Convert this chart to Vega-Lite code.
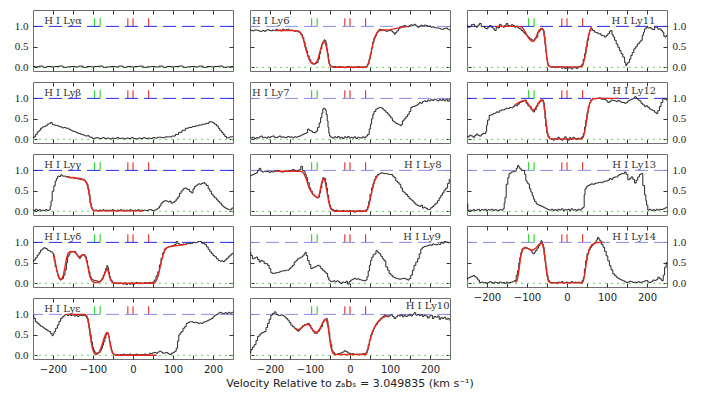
{
"$schema":"https://vega.github.io/schema/vega-lite/v6.json",
"background":"white",
"padding":{"left":13,"top":9,"right":5,"bottom":4},
"title":{"text":"Velocity Relative to zₐbₛ = 3.049835 (km s⁻¹)","orient":"bottom","anchor":"middle","font":"DejaVu Sans","fontSize":11,"fontWeight":"normal","color":"#222","offset":3},
"config":{"view":{"stroke":"#6e6e6e","strokeWidth":1},"axis":{"domain":false,"grid":false,"tickColor":"#333","tickWidth":1}},
"datasets":{
"ticks":[{"v":-96,"c":"g"},{"v":-82,"c":"g"},{"v":-13,"c":"r"},{"v":0,"c":"r"},{"v":39,"c":"r"}],
"cont":[{"f":1}],
"zero":[{"f":0}],
"spec":[
{"p":"a","v":-250,"f":0.02},{"p":"a","v":-240,"f":0.01},{"p":"a","v":-230,"f":0.03},{"p":"a","v":-220,"f":0.0},{"p":"a","v":-210,"f":0.02},{"p":"a","v":-200,"f":0.01},{"p":"a","v":-190,"f":0.02},{"p":"a","v":-180,"f":0.03},{"p":"a","v":-170,"f":0.0},{"p":"a","v":-160,"f":0.01},{"p":"a","v":-150,"f":0.02},{"p":"a","v":-140,"f":0.01},{"p":"a","v":-130,"f":0.03},{"p":"a","v":-120,"f":0.0},{"p":"a","v":-110,"f":0.02},{"p":"a","v":-100,"f":0.01},{"p":"a","v":-90,"f":0.02},{"p":"a","v":-80,"f":0.03},{"p":"a","v":-70,"f":0.0},{"p":"a","v":-60,"f":0.01},{"p":"a","v":-50,"f":0.02},{"p":"a","v":-40,"f":0.01},{"p":"a","v":-30,"f":0.03},{"p":"a","v":-20,"f":0.0},{"p":"a","v":-10,"f":0.02},{"p":"a","v":0,"f":0.01},{"p":"a","v":10,"f":0.02},{"p":"a","v":20,"f":0.03},{"p":"a","v":30,"f":0.0},{"p":"a","v":40,"f":0.01},{"p":"a","v":50,"f":0.02},{"p":"a","v":60,"f":0.01},{"p":"a","v":70,"f":0.03},{"p":"a","v":80,"f":0.0},{"p":"a","v":90,"f":0.02},{"p":"a","v":100,"f":0.01},{"p":"a","v":110,"f":0.02},{"p":"a","v":120,"f":0.03},{"p":"a","v":130,"f":0.0},{"p":"a","v":140,"f":0.01},{"p":"a","v":150,"f":0.02},{"p":"a","v":160,"f":0.01},{"p":"a","v":170,"f":0.03},{"p":"a","v":180,"f":0.0},{"p":"a","v":190,"f":0.02},{"p":"a","v":200,"f":0.01},{"p":"a","v":210,"f":0.02},{"p":"a","v":220,"f":0.03},{"p":"a","v":230,"f":0.0},{"p":"a","v":240,"f":0.01},{"p":"a","v":250,"f":0.02},
{"p":"b","v":-250,"f":0.03},{"p":"b","v":-246,"f":0.06},{"p":"b","v":-242,"f":0.12},{"p":"b","v":-237,"f":0.18},{"p":"b","v":-233,"f":0.22},{"p":"b","v":-229,"f":0.27},{"p":"b","v":-225,"f":0.3},{"p":"b","v":-221,"f":0.31},{"p":"b","v":-217,"f":0.33},{"p":"b","v":-212,"f":0.37},{"p":"b","v":-208,"f":0.39},{"p":"b","v":-204,"f":0.41},{"p":"b","v":-200,"f":0.36},{"p":"b","v":-196,"f":0.35},{"p":"b","v":-191,"f":0.34},{"p":"b","v":-187,"f":0.33},{"p":"b","v":-183,"f":0.31},{"p":"b","v":-179,"f":0.3},{"p":"b","v":-175,"f":0.28},{"p":"b","v":-170,"f":0.29},{"p":"b","v":-166,"f":0.27},{"p":"b","v":-162,"f":0.27},{"p":"b","v":-158,"f":0.24},{"p":"b","v":-154,"f":0.22},{"p":"b","v":-150,"f":0.2},{"p":"b","v":-145,"f":0.19},{"p":"b","v":-141,"f":0.17},{"p":"b","v":-137,"f":0.15},{"p":"b","v":-133,"f":0.14},{"p":"b","v":-128,"f":0.12},{"p":"b","v":-124,"f":0.11},{"p":"b","v":-120,"f":0.09},{"p":"b","v":-116,"f":0.08},{"p":"b","v":-112,"f":0.09},{"p":"b","v":-108,"f":0.06},{"p":"b","v":-104,"f":0.05},{"p":"b","v":-99,"f":0.02},{"p":"b","v":-95,"f":0.03},{"p":"b","v":-90,"f":0.04},{"p":"b","v":-86,"f":0.03},{"p":"b","v":-80,"f":0.02},{"p":"b","v":-74,"f":0.04},{"p":"b","v":-68,"f":0.02},{"p":"b","v":-62,"f":0.03},{"p":"b","v":-56,"f":0.01},{"p":"b","v":-50,"f":0.03},{"p":"b","v":-44,"f":0.02},{"p":"b","v":-38,"f":0.04},{"p":"b","v":-32,"f":0.02},{"p":"b","v":-26,"f":0.03},{"p":"b","v":-20,"f":0.01},{"p":"b","v":-14,"f":0.03},{"p":"b","v":-8,"f":0.02},{"p":"b","v":-2,"f":0.04},{"p":"b","v":4,"f":0.02},{"p":"b","v":10,"f":0.01},{"p":"b","v":16,"f":0.03},{"p":"b","v":22,"f":0.02},{"p":"b","v":28,"f":0.04},{"p":"b","v":34,"f":0.02},{"p":"b","v":40,"f":0.03},{"p":"b","v":46,"f":0.02},{"p":"b","v":52,"f":0.04},{"p":"b","v":58,"f":0.03},{"p":"b","v":64,"f":0.05},{"p":"b","v":68,"f":0.05},{"p":"b","v":76,"f":0.04},{"p":"b","v":85,"f":0.06},{"p":"b","v":93,"f":0.06},{"p":"b","v":102,"f":0.08},{"p":"b","v":110,"f":0.12},{"p":"b","v":118,"f":0.17},{"p":"b","v":127,"f":0.22},{"p":"b","v":135,"f":0.27},{"p":"b","v":143,"f":0.29},{"p":"b","v":152,"f":0.31},{"p":"b","v":160,"f":0.33},{"p":"b","v":169,"f":0.35},{"p":"b","v":177,"f":0.37},{"p":"b","v":186,"f":0.39},{"p":"b","v":194,"f":0.43},{"p":"b","v":198,"f":0.42},{"p":"b","v":202,"f":0.4},{"p":"b","v":206,"f":0.37},{"p":"b","v":211,"f":0.33},{"p":"b","v":215,"f":0.27},{"p":"b","v":219,"f":0.22},{"p":"b","v":223,"f":0.17},{"p":"b","v":227,"f":0.12},{"p":"b","v":232,"f":0.07},{"p":"b","v":236,"f":0.03},{"p":"b","v":240,"f":0.04},{"p":"b","v":244,"f":0.06},{"p":"b","v":250,"f":0.06},
{"p":"g","v":-250,"f":0.03},{"p":"g","v":-246,"f":0.02},{"p":"g","v":-242,"f":0.05},{"p":"g","v":-237,"f":0.02},{"p":"g","v":-233,"f":0.04},{"p":"g","v":-229,"f":0.01},{"p":"g","v":-225,"f":0.03},{"p":"g","v":-221,"f":0.02},{"p":"g","v":-217,"f":0.04},{"p":"g","v":-212,"f":0.02},{"p":"g","v":-208,"f":0.04},{"p":"g","v":-206,"f":0.12},{"p":"g","v":-204,"f":0.25},{"p":"g","v":-200,"f":0.49},{"p":"g","v":-196,"f":0.62},{"p":"g","v":-193,"f":0.74},{"p":"g","v":-190,"f":0.8},{"p":"g","v":-187,"f":0.86},{"p":"g","v":-183,"f":0.85},{"p":"g","v":-179,"f":0.89},{"p":"g","v":-175,"f":0.86},{"p":"g","v":-170,"f":0.86},{"p":"g","v":-166,"f":0.84},{"p":"g","v":-162,"f":0.85},{"p":"g","v":-158,"f":0.82},{"p":"g","v":-154,"f":0.82},{"p":"g","v":-150,"f":0.83},{"p":"g","v":-145,"f":0.8},{"p":"g","v":-141,"f":0.81},{"p":"g","v":-137,"f":0.79},{"p":"g","v":-133,"f":0.79},{"p":"g","v":-128,"f":0.77},{"p":"g","v":-124,"f":0.77},{"p":"g","v":-120,"f":0.75},{"p":"g","v":-117,"f":0.7},{"p":"g","v":-114,"f":0.66},{"p":"g","v":-111,"f":0.55},{"p":"g","v":-109,"f":0.41},{"p":"g","v":-106,"f":0.2},{"p":"g","v":-103,"f":0.1},{"p":"g","v":-101,"f":0.04},{"p":"g","v":-97,"f":0.02},{"p":"g","v":-92,"f":0.03},{"p":"g","v":-87,"f":0.01},{"p":"g","v":-83,"f":0.03},{"p":"g","v":-78,"f":0.02},{"p":"g","v":-74,"f":0.04},{"p":"g","v":-70,"f":0.02},{"p":"g","v":-66,"f":0.03},{"p":"g","v":-62,"f":0.01},{"p":"g","v":-58,"f":0.03},{"p":"g","v":-54,"f":0.02},{"p":"g","v":-50,"f":0.04},{"p":"g","v":-46,"f":0.02},{"p":"g","v":-42,"f":0.01},{"p":"g","v":-38,"f":0.03},{"p":"g","v":-34,"f":0.02},{"p":"g","v":-30,"f":0.04},{"p":"g","v":-26,"f":0.02},{"p":"g","v":-22,"f":0.03},{"p":"g","v":-18,"f":0.01},{"p":"g","v":-14,"f":0.03},{"p":"g","v":-10,"f":0.02},{"p":"g","v":-6,"f":0.04},{"p":"g","v":-2,"f":0.02},{"p":"g","v":2,"f":0.01},{"p":"g","v":6,"f":0.03},{"p":"g","v":10,"f":0.02},{"p":"g","v":14,"f":0.04},{"p":"g","v":18,"f":0.01},{"p":"g","v":22,"f":0.03},{"p":"g","v":26,"f":0.02},{"p":"g","v":30,"f":0.03},{"p":"g","v":34,"f":0.02},{"p":"g","v":43,"f":0.04},{"p":"g","v":51,"f":0.02},{"p":"g","v":55,"f":0.03},{"p":"g","v":60,"f":0.05},{"p":"g","v":64,"f":0.08},{"p":"g","v":68,"f":0.13},{"p":"g","v":72,"f":0.2},{"p":"g","v":77,"f":0.24},{"p":"g","v":81,"f":0.26},{"p":"g","v":85,"f":0.25},{"p":"g","v":89,"f":0.23},{"p":"g","v":93,"f":0.25},{"p":"g","v":97,"f":0.2},{"p":"g","v":102,"f":0.22},{"p":"g","v":106,"f":0.25},{"p":"g","v":110,"f":0.3},{"p":"g","v":114,"f":0.35},{"p":"g","v":118,"f":0.44},{"p":"g","v":123,"f":0.5},{"p":"g","v":127,"f":0.55},{"p":"g","v":131,"f":0.57},{"p":"g","v":135,"f":0.55},{"p":"g","v":139,"f":0.53},{"p":"g","v":144,"f":0.48},{"p":"g","v":148,"f":0.45},{"p":"g","v":152,"f":0.55},{"p":"g","v":156,"f":0.61},{"p":"g","v":160,"f":0.64},{"p":"g","v":165,"f":0.67},{"p":"g","v":169,"f":0.66},{"p":"g","v":173,"f":0.68},{"p":"g","v":177,"f":0.7},{"p":"g","v":181,"f":0.67},{"p":"g","v":186,"f":0.63},{"p":"g","v":190,"f":0.55},{"p":"g","v":194,"f":0.49},{"p":"g","v":198,"f":0.42},{"p":"g","v":202,"f":0.37},{"p":"g","v":206,"f":0.33},{"p":"g","v":211,"f":0.28},{"p":"g","v":215,"f":0.24},{"p":"g","v":219,"f":0.2},{"p":"g","v":223,"f":0.15},{"p":"g","v":227,"f":0.11},{"p":"g","v":232,"f":0.08},{"p":"g","v":236,"f":0.06},{"p":"g","v":240,"f":0.04},{"p":"g","v":244,"f":0.04},{"p":"g","v":250,"f":0.08},
{"p":"d","v":-250,"f":0.53},{"p":"d","v":-246,"f":0.57},{"p":"d","v":-242,"f":0.62},{"p":"d","v":-237,"f":0.69},{"p":"d","v":-233,"f":0.75},{"p":"d","v":-229,"f":0.81},{"p":"d","v":-225,"f":0.84},{"p":"d","v":-221,"f":0.87},{"p":"d","v":-217,"f":0.85},{"p":"d","v":-212,"f":0.81},{"p":"d","v":-208,"f":0.79},{"p":"d","v":-204,"f":0.77},{"p":"d","v":-200,"f":0.74},{"p":"d","v":-198,"f":0.65},{"p":"d","v":-196,"f":0.55},{"p":"d","v":-193,"f":0.41},{"p":"d","v":-190,"f":0.3},{"p":"d","v":-187,"f":0.2},{"p":"d","v":-184,"f":0.12},{"p":"d","v":-181,"f":0.08},{"p":"d","v":-178,"f":0.1},{"p":"d","v":-175,"f":0.12},{"p":"d","v":-172,"f":0.2},{"p":"d","v":-168,"f":0.33},{"p":"d","v":-165,"f":0.5},{"p":"d","v":-162,"f":0.65},{"p":"d","v":-159,"f":0.7},{"p":"d","v":-156,"f":0.76},{"p":"d","v":-152,"f":0.77},{"p":"d","v":-148,"f":0.77},{"p":"d","v":-145,"f":0.78},{"p":"d","v":-141,"f":0.72},{"p":"d","v":-139,"f":0.69},{"p":"d","v":-136,"f":0.65},{"p":"d","v":-133,"f":0.61},{"p":"d","v":-130,"f":0.65},{"p":"d","v":-126,"f":0.69},{"p":"d","v":-122,"f":0.7},{"p":"d","v":-118,"f":0.65},{"p":"d","v":-115,"f":0.55},{"p":"d","v":-112,"f":0.41},{"p":"d","v":-109,"f":0.28},{"p":"d","v":-106,"f":0.16},{"p":"d","v":-103,"f":0.1},{"p":"d","v":-99,"f":0.08},{"p":"d","v":-95,"f":0.07},{"p":"d","v":-91,"f":0.06},{"p":"d","v":-87,"f":0.05},{"p":"d","v":-84,"f":0.04},{"p":"d","v":-80,"f":0.07},{"p":"d","v":-76,"f":0.12},{"p":"d","v":-73,"f":0.2},{"p":"d","v":-70,"f":0.28},{"p":"d","v":-67,"f":0.36},{"p":"d","v":-64,"f":0.43},{"p":"d","v":-62,"f":0.38},{"p":"d","v":-60,"f":0.28},{"p":"d","v":-58,"f":0.18},{"p":"d","v":-56,"f":0.1},{"p":"d","v":-53,"f":0.06},{"p":"d","v":-49,"f":0.02},{"p":"d","v":-45,"f":0.0},{"p":"d","v":-40,"f":0.01},{"p":"d","v":-36,"f":-0.01},{"p":"d","v":-32,"f":0.01},{"p":"d","v":-28,"f":0.0},{"p":"d","v":-24,"f":-0.02},{"p":"d","v":-20,"f":0.01},{"p":"d","v":-16,"f":-0.03},{"p":"d","v":-12,"f":0.0},{"p":"d","v":-8,"f":-0.02},{"p":"d","v":-3,"f":0.01},{"p":"d","v":1,"f":-0.03},{"p":"d","v":5,"f":0.0},{"p":"d","v":10,"f":0.02},{"p":"d","v":14,"f":-0.01},{"p":"d","v":18,"f":0.01},{"p":"d","v":22,"f":-0.01},{"p":"d","v":26,"f":0.0},{"p":"d","v":31,"f":0.02},{"p":"d","v":35,"f":0.0},{"p":"d","v":39,"f":0.01},{"p":"d","v":43,"f":0.02},{"p":"d","v":47,"f":0.0},{"p":"d","v":51,"f":0.03},{"p":"d","v":55,"f":0.08},{"p":"d","v":60,"f":0.18},{"p":"d","v":64,"f":0.28},{"p":"d","v":68,"f":0.45},{"p":"d","v":72,"f":0.61},{"p":"d","v":76,"f":0.74},{"p":"d","v":81,"f":0.84},{"p":"d","v":85,"f":0.87},{"p":"d","v":89,"f":0.89},{"p":"d","v":93,"f":0.9},{"p":"d","v":98,"f":0.91},{"p":"d","v":102,"f":0.92},{"p":"d","v":106,"f":0.95},{"p":"d","v":110,"f":1.02},{"p":"d","v":114,"f":0.97},{"p":"d","v":118,"f":0.95},{"p":"d","v":123,"f":0.94},{"p":"d","v":127,"f":0.96},{"p":"d","v":131,"f":0.95},{"p":"d","v":135,"f":0.97},{"p":"d","v":139,"f":0.98},{"p":"d","v":144,"f":0.97},{"p":"d","v":148,"f":0.98},{"p":"d","v":152,"f":1.0},{"p":"d","v":156,"f":0.99},{"p":"d","v":160,"f":1.0},{"p":"d","v":165,"f":1.02},{"p":"d","v":169,"f":1.02},{"p":"d","v":173,"f":0.98},{"p":"d","v":177,"f":0.98},{"p":"d","v":181,"f":0.95},{"p":"d","v":186,"f":0.89},{"p":"d","v":190,"f":0.83},{"p":"d","v":194,"f":0.77},{"p":"d","v":198,"f":0.73},{"p":"d","v":202,"f":0.68},{"p":"d","v":206,"f":0.65},{"p":"d","v":211,"f":0.6},{"p":"d","v":215,"f":0.56},{"p":"d","v":219,"f":0.54},{"p":"d","v":223,"f":0.55},{"p":"d","v":227,"f":0.53},{"p":"d","v":232,"f":0.57},{"p":"d","v":236,"f":0.61},{"p":"d","v":240,"f":0.65},{"p":"d","v":244,"f":0.69},{"p":"d","v":250,"f":0.73},
{"p":"e","v":-250,"f":0.98},{"p":"e","v":-246,"f":0.9},{"p":"e","v":-242,"f":0.82},{"p":"e","v":-237,"f":0.78},{"p":"e","v":-233,"f":0.74},{"p":"e","v":-229,"f":0.71},{"p":"e","v":-225,"f":0.69},{"p":"e","v":-221,"f":0.66},{"p":"e","v":-217,"f":0.63},{"p":"e","v":-212,"f":0.6},{"p":"e","v":-208,"f":0.58},{"p":"e","v":-204,"f":0.53},{"p":"e","v":-201,"f":0.48},{"p":"e","v":-198,"f":0.53},{"p":"e","v":-196,"f":0.58},{"p":"e","v":-191,"f":0.66},{"p":"e","v":-187,"f":0.74},{"p":"e","v":-183,"f":0.83},{"p":"e","v":-179,"f":0.9},{"p":"e","v":-175,"f":0.94},{"p":"e","v":-170,"f":0.98},{"p":"e","v":-166,"f":1.0},{"p":"e","v":-162,"f":0.97},{"p":"e","v":-158,"f":1.0},{"p":"e","v":-154,"f":0.97},{"p":"e","v":-150,"f":1.0},{"p":"e","v":-145,"f":0.96},{"p":"e","v":-141,"f":0.98},{"p":"e","v":-137,"f":0.95},{"p":"e","v":-133,"f":0.98},{"p":"e","v":-128,"f":0.97},{"p":"e","v":-124,"f":0.97},{"p":"e","v":-120,"f":0.98},{"p":"e","v":-117,"f":0.95},{"p":"e","v":-114,"f":0.9},{"p":"e","v":-111,"f":0.8},{"p":"e","v":-109,"f":0.66},{"p":"e","v":-106,"f":0.5},{"p":"e","v":-103,"f":0.33},{"p":"e","v":-100,"f":0.2},{"p":"e","v":-98,"f":0.13},{"p":"e","v":-95,"f":0.08},{"p":"e","v":-91,"f":0.05},{"p":"e","v":-87,"f":0.06},{"p":"e","v":-84,"f":0.07},{"p":"e","v":-80,"f":0.12},{"p":"e","v":-78,"f":0.17},{"p":"e","v":-75,"f":0.25},{"p":"e","v":-72,"f":0.33},{"p":"e","v":-69,"f":0.42},{"p":"e","v":-67,"f":0.5},{"p":"e","v":-64,"f":0.56},{"p":"e","v":-62,"f":0.53},{"p":"e","v":-60,"f":0.46},{"p":"e","v":-58,"f":0.33},{"p":"e","v":-56,"f":0.21},{"p":"e","v":-53,"f":0.12},{"p":"e","v":-51,"f":0.05},{"p":"e","v":-47,"f":0.02},{"p":"e","v":-43,"f":0.01},{"p":"e","v":-39,"f":0.02},{"p":"e","v":-35,"f":0.0},{"p":"e","v":-31,"f":0.02},{"p":"e","v":-27,"f":0.01},{"p":"e","v":-23,"f":0.03},{"p":"e","v":-19,"f":0.0},{"p":"e","v":-15,"f":0.02},{"p":"e","v":-11,"f":0.01},{"p":"e","v":-7,"f":0.03},{"p":"e","v":-3,"f":0.0},{"p":"e","v":1,"f":0.02},{"p":"e","v":5,"f":0.01},{"p":"e","v":9,"f":0.03},{"p":"e","v":13,"f":0.02},{"p":"e","v":17,"f":0.0},{"p":"e","v":21,"f":0.02},{"p":"e","v":25,"f":0.01},{"p":"e","v":30,"f":0.03},{"p":"e","v":35,"f":0.02},{"p":"e","v":39,"f":0.01},{"p":"e","v":43,"f":0.05},{"p":"e","v":47,"f":0.04},{"p":"e","v":51,"f":0.06},{"p":"e","v":55,"f":0.07},{"p":"e","v":60,"f":0.05},{"p":"e","v":64,"f":0.08},{"p":"e","v":68,"f":0.1},{"p":"e","v":72,"f":0.08},{"p":"e","v":76,"f":0.05},{"p":"e","v":81,"f":0.06},{"p":"e","v":85,"f":0.07},{"p":"e","v":89,"f":0.04},{"p":"e","v":93,"f":0.02},{"p":"e","v":98,"f":0.05},{"p":"e","v":102,"f":0.07},{"p":"e","v":106,"f":0.1},{"p":"e","v":110,"f":0.17},{"p":"e","v":113,"f":0.35},{"p":"e","v":116,"f":0.5},{"p":"e","v":120,"f":0.55},{"p":"e","v":123,"f":0.58},{"p":"e","v":127,"f":0.66},{"p":"e","v":131,"f":0.7},{"p":"e","v":135,"f":0.78},{"p":"e","v":139,"f":0.8},{"p":"e","v":144,"f":0.82},{"p":"e","v":148,"f":0.82},{"p":"e","v":152,"f":0.8},{"p":"e","v":156,"f":0.81},{"p":"e","v":160,"f":0.8},{"p":"e","v":165,"f":0.78},{"p":"e","v":169,"f":0.79},{"p":"e","v":173,"f":0.78},{"p":"e","v":177,"f":0.81},{"p":"e","v":181,"f":0.82},{"p":"e","v":186,"f":0.84},{"p":"e","v":190,"f":0.86},{"p":"e","v":194,"f":0.88},{"p":"e","v":198,"f":0.9},{"p":"e","v":202,"f":0.94},{"p":"e","v":206,"f":0.98},{"p":"e","v":211,"f":1.0},{"p":"e","v":215,"f":1.03},{"p":"e","v":219,"f":1.05},{"p":"e","v":223,"f":1.03},{"p":"e","v":227,"f":1.02},{"p":"e","v":232,"f":1.04},{"p":"e","v":236,"f":1.02},{"p":"e","v":240,"f":1.05},{"p":"e","v":244,"f":1.03},{"p":"e","v":250,"f":1.05},
{"p":"6","v":-250,"f":0.93},{"p":"6","v":-246,"f":0.9},{"p":"6","v":-242,"f":0.89},{"p":"6","v":-237,"f":0.91},{"p":"6","v":-233,"f":0.91},{"p":"6","v":-229,"f":0.9},{"p":"6","v":-225,"f":0.88},{"p":"6","v":-221,"f":0.88},{"p":"6","v":-217,"f":0.9},{"p":"6","v":-212,"f":0.88},{"p":"6","v":-208,"f":0.91},{"p":"6","v":-204,"f":0.92},{"p":"6","v":-200,"f":0.9},{"p":"6","v":-196,"f":0.89},{"p":"6","v":-192,"f":0.91},{"p":"6","v":-187,"f":0.9},{"p":"6","v":-183,"f":0.93},{"p":"6","v":-179,"f":0.9},{"p":"6","v":-175,"f":0.91},{"p":"6","v":-171,"f":0.89},{"p":"6","v":-167,"f":0.93},{"p":"6","v":-162,"f":0.9},{"p":"6","v":-158,"f":0.92},{"p":"6","v":-154,"f":0.93},{"p":"6","v":-150,"f":0.9},{"p":"6","v":-146,"f":0.91},{"p":"6","v":-142,"f":0.9},{"p":"6","v":-137,"f":0.88},{"p":"6","v":-133,"f":0.89},{"p":"6","v":-129,"f":0.87},{"p":"6","v":-125,"f":0.85},{"p":"6","v":-121,"f":0.8},{"p":"6","v":-117,"f":0.73},{"p":"6","v":-114,"f":0.62},{"p":"6","v":-111,"f":0.49},{"p":"6","v":-108,"f":0.4},{"p":"6","v":-104,"f":0.28},{"p":"6","v":-100,"f":0.19},{"p":"6","v":-96,"f":0.12},{"p":"6","v":-92,"f":0.09},{"p":"6","v":-88,"f":0.08},{"p":"6","v":-84,"f":0.1},{"p":"6","v":-81,"f":0.12},{"p":"6","v":-78,"f":0.2},{"p":"6","v":-75,"f":0.33},{"p":"6","v":-72,"f":0.45},{"p":"6","v":-69,"f":0.57},{"p":"6","v":-66,"f":0.63},{"p":"6","v":-64,"f":0.67},{"p":"6","v":-61,"f":0.65},{"p":"6","v":-59,"f":0.58},{"p":"6","v":-57,"f":0.45},{"p":"6","v":-55,"f":0.33},{"p":"6","v":-53,"f":0.2},{"p":"6","v":-52,"f":0.08},{"p":"6","v":-48,"f":0.04},{"p":"6","v":-46,"f":0.02},{"p":"6","v":-42,"f":0.01},{"p":"6","v":-37,"f":0.02},{"p":"6","v":-33,"f":0.0},{"p":"6","v":-29,"f":0.01},{"p":"6","v":-25,"f":0.02},{"p":"6","v":-21,"f":0.0},{"p":"6","v":-17,"f":0.01},{"p":"6","v":-12,"f":-0.01},{"p":"6","v":-8,"f":0.01},{"p":"6","v":-4,"f":0.02},{"p":"6","v":0,"f":0.0},{"p":"6","v":4,"f":0.01},{"p":"6","v":8,"f":-0.01},{"p":"6","v":12,"f":0.01},{"p":"6","v":17,"f":0.0},{"p":"6","v":21,"f":0.02},{"p":"6","v":25,"f":0.0},{"p":"6","v":29,"f":0.01},{"p":"6","v":33,"f":-0.01},{"p":"6","v":37,"f":0.01},{"p":"6","v":41,"f":0.02},{"p":"6","v":46,"f":0.08},{"p":"6","v":49,"f":0.2},{"p":"6","v":52,"f":0.33},{"p":"6","v":55,"f":0.47},{"p":"6","v":58,"f":0.61},{"p":"6","v":62,"f":0.72},{"p":"6","v":65,"f":0.77},{"p":"6","v":68,"f":0.84},{"p":"6","v":71,"f":0.89},{"p":"6","v":75,"f":0.93},{"p":"6","v":79,"f":0.92},{"p":"6","v":83,"f":0.91},{"p":"6","v":87,"f":0.9},{"p":"6","v":92,"f":0.88},{"p":"6","v":96,"f":0.89},{"p":"6","v":100,"f":0.9},{"p":"6","v":104,"f":0.89},{"p":"6","v":108,"f":0.86},{"p":"6","v":112,"f":0.81},{"p":"6","v":115,"f":0.85},{"p":"6","v":119,"f":0.89},{"p":"6","v":123,"f":0.94},{"p":"6","v":127,"f":0.98},{"p":"6","v":133,"f":1.0},{"p":"6","v":137,"f":1.02},{"p":"6","v":142,"f":1.0},{"p":"6","v":146,"f":0.99},{"p":"6","v":150,"f":1.02},{"p":"6","v":154,"f":1.04},{"p":"6","v":158,"f":1.02},{"p":"6","v":162,"f":1.05},{"p":"6","v":167,"f":1.01},{"p":"6","v":171,"f":0.98},{"p":"6","v":175,"f":1.0},{"p":"6","v":179,"f":1.03},{"p":"6","v":183,"f":1.01},{"p":"6","v":188,"f":1.03},{"p":"6","v":192,"f":1.02},{"p":"6","v":196,"f":1.0},{"p":"6","v":200,"f":1.01},{"p":"6","v":204,"f":0.98},{"p":"6","v":208,"f":0.99},{"p":"6","v":212,"f":0.97},{"p":"6","v":217,"f":0.96},{"p":"6","v":221,"f":0.96},{"p":"6","v":225,"f":0.95},{"p":"6","v":229,"f":0.93},{"p":"6","v":233,"f":0.93},{"p":"6","v":237,"f":0.95},{"p":"6","v":242,"f":0.96},{"p":"6","v":246,"f":0.93},{"p":"6","v":250,"f":0.91},
{"p":"7","v":-250,"f":0.04},{"p":"7","v":-246,"f":0.03},{"p":"7","v":-242,"f":0.05},{"p":"7","v":-237,"f":0.02},{"p":"7","v":-233,"f":0.04},{"p":"7","v":-229,"f":0.03},{"p":"7","v":-225,"f":0.06},{"p":"7","v":-221,"f":0.08},{"p":"7","v":-217,"f":0.04},{"p":"7","v":-212,"f":0.05},{"p":"7","v":-208,"f":0.03},{"p":"7","v":-204,"f":0.06},{"p":"7","v":-200,"f":0.04},{"p":"7","v":-196,"f":0.07},{"p":"7","v":-192,"f":0.08},{"p":"7","v":-187,"f":0.05},{"p":"7","v":-183,"f":0.04},{"p":"7","v":-179,"f":0.06},{"p":"7","v":-175,"f":0.08},{"p":"7","v":-171,"f":0.05},{"p":"7","v":-167,"f":0.06},{"p":"7","v":-162,"f":0.04},{"p":"7","v":-158,"f":0.05},{"p":"7","v":-154,"f":0.07},{"p":"7","v":-150,"f":0.05},{"p":"7","v":-146,"f":0.06},{"p":"7","v":-142,"f":0.04},{"p":"7","v":-137,"f":0.06},{"p":"7","v":-133,"f":0.05},{"p":"7","v":-129,"f":0.07},{"p":"7","v":-125,"f":0.08},{"p":"7","v":-121,"f":0.1},{"p":"7","v":-117,"f":0.12},{"p":"7","v":-112,"f":0.14},{"p":"7","v":-108,"f":0.16},{"p":"7","v":-104,"f":0.25},{"p":"7","v":-100,"f":0.22},{"p":"7","v":-96,"f":0.2},{"p":"7","v":-92,"f":0.17},{"p":"7","v":-87,"f":0.16},{"p":"7","v":-83,"f":0.2},{"p":"7","v":-79,"f":0.29},{"p":"7","v":-75,"f":0.4},{"p":"7","v":-72,"f":0.53},{"p":"7","v":-69,"f":0.64},{"p":"7","v":-67,"f":0.74},{"p":"7","v":-64,"f":0.76},{"p":"7","v":-61,"f":0.72},{"p":"7","v":-58,"f":0.61},{"p":"7","v":-56,"f":0.45},{"p":"7","v":-54,"f":0.29},{"p":"7","v":-52,"f":0.15},{"p":"7","v":-50,"f":0.08},{"p":"7","v":-46,"f":0.05},{"p":"7","v":-42,"f":0.03},{"p":"7","v":-37,"f":0.06},{"p":"7","v":-33,"f":0.04},{"p":"7","v":-29,"f":0.07},{"p":"7","v":-25,"f":0.03},{"p":"7","v":-21,"f":0.05},{"p":"7","v":-17,"f":0.02},{"p":"7","v":-12,"f":0.06},{"p":"7","v":-8,"f":0.04},{"p":"7","v":-4,"f":0.07},{"p":"7","v":0,"f":0.03},{"p":"7","v":4,"f":0.05},{"p":"7","v":8,"f":0.03},{"p":"7","v":12,"f":0.06},{"p":"7","v":17,"f":0.02},{"p":"7","v":21,"f":0.05},{"p":"7","v":25,"f":0.04},{"p":"7","v":29,"f":0.03},{"p":"7","v":33,"f":0.06},{"p":"7","v":37,"f":0.04},{"p":"7","v":42,"f":0.08},{"p":"7","v":46,"f":0.12},{"p":"7","v":50,"f":0.25},{"p":"7","v":52,"f":0.37},{"p":"7","v":56,"f":0.5},{"p":"7","v":58,"f":0.61},{"p":"7","v":62,"f":0.68},{"p":"7","v":67,"f":0.74},{"p":"7","v":71,"f":0.76},{"p":"7","v":75,"f":0.78},{"p":"7","v":79,"f":0.77},{"p":"7","v":83,"f":0.74},{"p":"7","v":87,"f":0.7},{"p":"7","v":92,"f":0.66},{"p":"7","v":96,"f":0.62},{"p":"7","v":100,"f":0.57},{"p":"7","v":104,"f":0.52},{"p":"7","v":108,"f":0.45},{"p":"7","v":112,"f":0.42},{"p":"7","v":117,"f":0.39},{"p":"7","v":121,"f":0.37},{"p":"7","v":125,"f":0.35},{"p":"7","v":127,"f":0.33},{"p":"7","v":129,"f":0.36},{"p":"7","v":133,"f":0.45},{"p":"7","v":137,"f":0.5},{"p":"7","v":142,"f":0.55},{"p":"7","v":146,"f":0.61},{"p":"7","v":150,"f":0.68},{"p":"7","v":154,"f":0.78},{"p":"7","v":158,"f":0.8},{"p":"7","v":162,"f":0.81},{"p":"7","v":167,"f":0.83},{"p":"7","v":171,"f":0.86},{"p":"7","v":175,"f":0.9},{"p":"7","v":179,"f":0.88},{"p":"7","v":183,"f":0.92},{"p":"7","v":187,"f":0.94},{"p":"7","v":192,"f":0.92},{"p":"7","v":196,"f":0.96},{"p":"7","v":200,"f":0.94},{"p":"7","v":204,"f":0.97},{"p":"7","v":208,"f":0.95},{"p":"7","v":212,"f":0.98},{"p":"7","v":217,"f":0.96},{"p":"7","v":221,"f":0.94},{"p":"7","v":225,"f":0.97},{"p":"7","v":229,"f":0.95},{"p":"7","v":233,"f":0.98},{"p":"7","v":237,"f":0.94},{"p":"7","v":242,"f":0.97},{"p":"7","v":246,"f":0.93},{"p":"7","v":250,"f":0.98},
{"p":"8","v":-250,"f":0.86},{"p":"8","v":-246,"f":0.88},{"p":"8","v":-242,"f":0.9},{"p":"8","v":-237,"f":0.92},{"p":"8","v":-233,"f":0.94},{"p":"8","v":-229,"f":1.0},{"p":"8","v":-225,"f":1.05},{"p":"8","v":-221,"f":0.98},{"p":"8","v":-217,"f":0.96},{"p":"8","v":-212,"f":0.98},{"p":"8","v":-208,"f":0.97},{"p":"8","v":-204,"f":0.98},{"p":"8","v":-200,"f":0.95},{"p":"8","v":-196,"f":0.97},{"p":"8","v":-192,"f":0.96},{"p":"8","v":-187,"f":0.99},{"p":"8","v":-183,"f":0.97},{"p":"8","v":-179,"f":1.0},{"p":"8","v":-175,"f":0.98},{"p":"8","v":-171,"f":0.96},{"p":"8","v":-167,"f":0.96},{"p":"8","v":-162,"f":0.98},{"p":"8","v":-158,"f":0.97},{"p":"8","v":-154,"f":0.98},{"p":"8","v":-150,"f":1.0},{"p":"8","v":-146,"f":0.99},{"p":"8","v":-142,"f":1.02},{"p":"8","v":-137,"f":1.0},{"p":"8","v":-133,"f":0.98},{"p":"8","v":-129,"f":1.0},{"p":"8","v":-125,"f":1.02},{"p":"8","v":-121,"f":1.1},{"p":"8","v":-117,"f":1.0},{"p":"8","v":-114,"f":0.98},{"p":"8","v":-111,"f":0.9},{"p":"8","v":-108,"f":0.82},{"p":"8","v":-104,"f":0.7},{"p":"8","v":-100,"f":0.57},{"p":"8","v":-96,"f":0.49},{"p":"8","v":-92,"f":0.41},{"p":"8","v":-87,"f":0.37},{"p":"8","v":-83,"f":0.34},{"p":"8","v":-80,"f":0.33},{"p":"8","v":-77,"f":0.35},{"p":"8","v":-75,"f":0.45},{"p":"8","v":-72,"f":0.57},{"p":"8","v":-69,"f":0.7},{"p":"8","v":-67,"f":0.82},{"p":"8","v":-62,"f":0.8},{"p":"8","v":-60,"f":0.7},{"p":"8","v":-58,"f":0.57},{"p":"8","v":-55,"f":0.4},{"p":"8","v":-52,"f":0.25},{"p":"8","v":-50,"f":0.15},{"p":"8","v":-47,"f":0.08},{"p":"8","v":-44,"f":0.04},{"p":"8","v":-37,"f":0.02},{"p":"8","v":-33,"f":0.03},{"p":"8","v":-29,"f":0.0},{"p":"8","v":-25,"f":0.01},{"p":"8","v":-21,"f":0.0},{"p":"8","v":-17,"f":0.02},{"p":"8","v":-12,"f":0.0},{"p":"8","v":-8,"f":0.01},{"p":"8","v":-4,"f":-0.01},{"p":"8","v":0,"f":0.02},{"p":"8","v":4,"f":0.0},{"p":"8","v":8,"f":0.01},{"p":"8","v":12,"f":-0.02},{"p":"8","v":17,"f":0.01},{"p":"8","v":21,"f":0.0},{"p":"8","v":25,"f":0.02},{"p":"8","v":29,"f":-0.01},{"p":"8","v":33,"f":0.01},{"p":"8","v":37,"f":0.0},{"p":"8","v":42,"f":0.04},{"p":"8","v":46,"f":0.12},{"p":"8","v":48,"f":0.25},{"p":"8","v":52,"f":0.41},{"p":"8","v":56,"f":0.57},{"p":"8","v":59,"f":0.68},{"p":"8","v":62,"f":0.78},{"p":"8","v":67,"f":0.86},{"p":"8","v":71,"f":0.9},{"p":"8","v":75,"f":0.92},{"p":"8","v":79,"f":0.94},{"p":"8","v":83,"f":0.93},{"p":"8","v":87,"f":0.92},{"p":"8","v":92,"f":0.92},{"p":"8","v":96,"f":0.91},{"p":"8","v":100,"f":0.9},{"p":"8","v":104,"f":0.9},{"p":"8","v":108,"f":0.86},{"p":"8","v":112,"f":0.82},{"p":"8","v":117,"f":0.74},{"p":"8","v":121,"f":0.7},{"p":"8","v":125,"f":0.66},{"p":"8","v":129,"f":0.57},{"p":"8","v":133,"f":0.49},{"p":"8","v":137,"f":0.45},{"p":"8","v":142,"f":0.41},{"p":"8","v":146,"f":0.36},{"p":"8","v":150,"f":0.31},{"p":"8","v":154,"f":0.28},{"p":"8","v":158,"f":0.25},{"p":"8","v":162,"f":0.2},{"p":"8","v":167,"f":0.16},{"p":"8","v":171,"f":0.14},{"p":"8","v":175,"f":0.12},{"p":"8","v":179,"f":0.15},{"p":"8","v":183,"f":0.08},{"p":"8","v":187,"f":0.1},{"p":"8","v":192,"f":0.07},{"p":"8","v":196,"f":0.04},{"p":"8","v":200,"f":0.05},{"p":"8","v":204,"f":0.09},{"p":"8","v":208,"f":0.12},{"p":"8","v":212,"f":0.16},{"p":"8","v":217,"f":0.2},{"p":"8","v":221,"f":0.26},{"p":"8","v":225,"f":0.33},{"p":"8","v":229,"f":0.39},{"p":"8","v":233,"f":0.45},{"p":"8","v":237,"f":0.52},{"p":"8","v":242,"f":0.57},{"p":"8","v":246,"f":0.68},{"p":"8","v":250,"f":0.78},
{"p":"9","v":-250,"f":0.76},{"p":"9","v":-246,"f":0.68},{"p":"9","v":-242,"f":0.6},{"p":"9","v":-237,"f":0.62},{"p":"9","v":-233,"f":0.64},{"p":"9","v":-229,"f":0.58},{"p":"9","v":-225,"f":0.52},{"p":"9","v":-221,"f":0.56},{"p":"9","v":-217,"f":0.54},{"p":"9","v":-212,"f":0.48},{"p":"9","v":-208,"f":0.48},{"p":"9","v":-204,"f":0.44},{"p":"9","v":-200,"f":0.36},{"p":"9","v":-196,"f":0.26},{"p":"9","v":-192,"f":0.24},{"p":"9","v":-187,"f":0.25},{"p":"9","v":-183,"f":0.26},{"p":"9","v":-179,"f":0.26},{"p":"9","v":-175,"f":0.28},{"p":"9","v":-171,"f":0.3},{"p":"9","v":-167,"f":0.3},{"p":"9","v":-162,"f":0.31},{"p":"9","v":-158,"f":0.32},{"p":"9","v":-154,"f":0.32},{"p":"9","v":-150,"f":0.36},{"p":"9","v":-146,"f":0.4},{"p":"9","v":-142,"f":0.44},{"p":"9","v":-137,"f":0.52},{"p":"9","v":-133,"f":0.56},{"p":"9","v":-129,"f":0.6},{"p":"9","v":-125,"f":0.62},{"p":"9","v":-121,"f":0.64},{"p":"9","v":-117,"f":0.67},{"p":"9","v":-113,"f":0.72},{"p":"9","v":-111,"f":0.76},{"p":"9","v":-108,"f":0.68},{"p":"9","v":-104,"f":0.56},{"p":"9","v":-100,"f":0.46},{"p":"9","v":-96,"f":0.36},{"p":"9","v":-92,"f":0.38},{"p":"9","v":-87,"f":0.4},{"p":"9","v":-83,"f":0.42},{"p":"9","v":-79,"f":0.44},{"p":"9","v":-75,"f":0.42},{"p":"9","v":-71,"f":0.36},{"p":"9","v":-67,"f":0.32},{"p":"9","v":-62,"f":0.28},{"p":"9","v":-58,"f":0.24},{"p":"9","v":-54,"f":0.15},{"p":"9","v":-52,"f":0.08},{"p":"9","v":-48,"f":0.05},{"p":"9","v":-44,"f":0.04},{"p":"9","v":-40,"f":0.06},{"p":"9","v":-35,"f":0.04},{"p":"9","v":-31,"f":0.06},{"p":"9","v":-29,"f":0.05},{"p":"9","v":-25,"f":0.02},{"p":"9","v":-21,"f":0.0},{"p":"9","v":-17,"f":0.03},{"p":"9","v":-12,"f":0.02},{"p":"9","v":-8,"f":0.05},{"p":"9","v":-4,"f":-0.02},{"p":"9","v":0,"f":0.04},{"p":"9","v":4,"f":0.08},{"p":"9","v":8,"f":0.1},{"p":"9","v":12,"f":0.12},{"p":"9","v":17,"f":0.1},{"p":"9","v":21,"f":0.11},{"p":"9","v":25,"f":0.09},{"p":"9","v":29,"f":0.08},{"p":"9","v":33,"f":0.07},{"p":"9","v":37,"f":0.06},{"p":"9","v":41,"f":0.08},{"p":"9","v":44,"f":0.16},{"p":"9","v":47,"f":0.3},{"p":"9","v":50,"f":0.44},{"p":"9","v":53,"f":0.56},{"p":"9","v":56,"f":0.64},{"p":"9","v":60,"f":0.7},{"p":"9","v":63,"f":0.72},{"p":"9","v":67,"f":0.8},{"p":"9","v":69,"f":0.78},{"p":"9","v":71,"f":0.75},{"p":"9","v":75,"f":0.72},{"p":"9","v":79,"f":0.66},{"p":"9","v":83,"f":0.6},{"p":"9","v":87,"f":0.55},{"p":"9","v":92,"f":0.4},{"p":"9","v":96,"f":0.32},{"p":"9","v":100,"f":0.24},{"p":"9","v":104,"f":0.2},{"p":"9","v":108,"f":0.16},{"p":"9","v":112,"f":0.14},{"p":"9","v":117,"f":0.12},{"p":"9","v":121,"f":0.11},{"p":"9","v":125,"f":0.1},{"p":"9","v":129,"f":0.11},{"p":"9","v":133,"f":0.12},{"p":"9","v":137,"f":0.12},{"p":"9","v":142,"f":0.1},{"p":"9","v":146,"f":0.08},{"p":"9","v":150,"f":0.12},{"p":"9","v":154,"f":0.2},{"p":"9","v":158,"f":0.32},{"p":"9","v":162,"f":0.44},{"p":"9","v":167,"f":0.52},{"p":"9","v":171,"f":0.6},{"p":"9","v":175,"f":0.72},{"p":"9","v":179,"f":0.84},{"p":"9","v":183,"f":0.88},{"p":"9","v":187,"f":0.9},{"p":"9","v":192,"f":0.91},{"p":"9","v":196,"f":0.92},{"p":"9","v":200,"f":0.94},{"p":"9","v":204,"f":0.93},{"p":"9","v":208,"f":0.96},{"p":"9","v":212,"f":0.95},{"p":"9","v":217,"f":0.94},{"p":"9","v":221,"f":0.96},{"p":"9","v":225,"f":0.95},{"p":"9","v":229,"f":1.0},{"p":"9","v":233,"f":0.98},{"p":"9","v":237,"f":1.02},{"p":"9","v":242,"f":1.01},{"p":"9","v":246,"f":0.99},{"p":"9","v":250,"f":1.0},
{"p":"10","v":-250,"f":0.06},{"p":"10","v":-246,"f":0.14},{"p":"10","v":-242,"f":0.2},{"p":"10","v":-237,"f":0.26},{"p":"10","v":-233,"f":0.36},{"p":"10","v":-229,"f":0.46},{"p":"10","v":-225,"f":0.5},{"p":"10","v":-221,"f":0.54},{"p":"10","v":-217,"f":0.56},{"p":"10","v":-212,"f":0.58},{"p":"10","v":-208,"f":0.68},{"p":"10","v":-204,"f":0.78},{"p":"10","v":-200,"f":0.88},{"p":"10","v":-196,"f":0.98},{"p":"10","v":-192,"f":1.02},{"p":"10","v":-187,"f":1.06},{"p":"10","v":-183,"f":1.0},{"p":"10","v":-179,"f":0.98},{"p":"10","v":-175,"f":0.97},{"p":"10","v":-171,"f":0.99},{"p":"10","v":-167,"f":0.97},{"p":"10","v":-162,"f":0.94},{"p":"10","v":-158,"f":0.9},{"p":"10","v":-154,"f":0.86},{"p":"10","v":-150,"f":0.8},{"p":"10","v":-146,"f":0.74},{"p":"10","v":-142,"f":0.7},{"p":"10","v":-137,"f":0.66},{"p":"10","v":-133,"f":0.62},{"p":"10","v":-129,"f":0.59},{"p":"10","v":-125,"f":0.63},{"p":"10","v":-121,"f":0.67},{"p":"10","v":-117,"f":0.72},{"p":"10","v":-112,"f":0.75},{"p":"10","v":-108,"f":0.76},{"p":"10","v":-104,"f":0.78},{"p":"10","v":-100,"f":0.74},{"p":"10","v":-96,"f":0.66},{"p":"10","v":-92,"f":0.6},{"p":"10","v":-87,"f":0.54},{"p":"10","v":-83,"f":0.54},{"p":"10","v":-79,"f":0.58},{"p":"10","v":-75,"f":0.64},{"p":"10","v":-71,"f":0.7},{"p":"10","v":-67,"f":0.8},{"p":"10","v":-64,"f":0.86},{"p":"10","v":-61,"f":0.88},{"p":"10","v":-58,"f":0.9},{"p":"10","v":-56,"f":0.84},{"p":"10","v":-54,"f":0.72},{"p":"10","v":-52,"f":0.55},{"p":"10","v":-49,"f":0.35},{"p":"10","v":-47,"f":0.26},{"p":"10","v":-44,"f":0.12},{"p":"10","v":-42,"f":0.08},{"p":"10","v":-37,"f":0.03},{"p":"10","v":-33,"f":0.02},{"p":"10","v":-29,"f":0.04},{"p":"10","v":-25,"f":0.05},{"p":"10","v":-21,"f":0.06},{"p":"10","v":-17,"f":0.08},{"p":"10","v":-12,"f":0.11},{"p":"10","v":-8,"f":0.09},{"p":"10","v":-4,"f":0.06},{"p":"10","v":0,"f":0.05},{"p":"10","v":4,"f":0.03},{"p":"10","v":8,"f":0.04},{"p":"10","v":12,"f":0.02},{"p":"10","v":17,"f":0.03},{"p":"10","v":21,"f":0.02},{"p":"10","v":25,"f":0.03},{"p":"10","v":29,"f":0.02},{"p":"10","v":33,"f":0.04},{"p":"10","v":37,"f":0.03},{"p":"10","v":41,"f":0.06},{"p":"10","v":44,"f":0.14},{"p":"10","v":47,"f":0.26},{"p":"10","v":50,"f":0.38},{"p":"10","v":54,"f":0.5},{"p":"10","v":57,"f":0.58},{"p":"10","v":60,"f":0.64},{"p":"10","v":62,"f":0.7},{"p":"10","v":67,"f":0.76},{"p":"10","v":71,"f":0.82},{"p":"10","v":75,"f":0.86},{"p":"10","v":79,"f":0.91},{"p":"10","v":83,"f":0.94},{"p":"10","v":87,"f":0.98},{"p":"10","v":92,"f":0.96},{"p":"10","v":96,"f":0.94},{"p":"10","v":100,"f":0.97},{"p":"10","v":104,"f":0.99},{"p":"10","v":108,"f":0.95},{"p":"10","v":112,"f":0.9},{"p":"10","v":117,"f":0.94},{"p":"10","v":121,"f":0.98},{"p":"10","v":125,"f":0.96},{"p":"10","v":129,"f":0.99},{"p":"10","v":133,"f":0.94},{"p":"10","v":137,"f":0.98},{"p":"10","v":142,"f":0.95},{"p":"10","v":146,"f":0.97},{"p":"10","v":150,"f":1.0},{"p":"10","v":154,"f":0.96},{"p":"10","v":158,"f":1.0},{"p":"10","v":162,"f":1.04},{"p":"10","v":167,"f":0.98},{"p":"10","v":171,"f":1.0},{"p":"10","v":175,"f":0.97},{"p":"10","v":179,"f":0.99},{"p":"10","v":183,"f":0.95},{"p":"10","v":187,"f":0.98},{"p":"10","v":192,"f":0.96},{"p":"10","v":196,"f":0.91},{"p":"10","v":200,"f":0.96},{"p":"10","v":204,"f":0.98},{"p":"10","v":208,"f":0.9},{"p":"10","v":212,"f":0.95},{"p":"10","v":217,"f":0.93},{"p":"10","v":221,"f":0.96},{"p":"10","v":225,"f":0.88},{"p":"10","v":229,"f":0.92},{"p":"10","v":233,"f":0.9},{"p":"10","v":237,"f":0.93},{"p":"10","v":242,"f":0.88},{"p":"10","v":246,"f":0.9},{"p":"10","v":250,"f":0.86},
{"p":"11","v":-250,"f":1.02},{"p":"11","v":-246,"f":0.98},{"p":"11","v":-242,"f":0.99},{"p":"11","v":-237,"f":1.04},{"p":"11","v":-233,"f":1.05},{"p":"11","v":-229,"f":1.0},{"p":"11","v":-225,"f":0.98},{"p":"11","v":-221,"f":1.03},{"p":"11","v":-217,"f":1.07},{"p":"11","v":-212,"f":1.0},{"p":"11","v":-208,"f":1.0},{"p":"11","v":-204,"f":0.96},{"p":"11","v":-200,"f":0.94},{"p":"11","v":-196,"f":0.98},{"p":"11","v":-192,"f":1.02},{"p":"11","v":-187,"f":0.98},{"p":"11","v":-183,"f":0.94},{"p":"11","v":-179,"f":0.9},{"p":"11","v":-175,"f":0.98},{"p":"11","v":-171,"f":0.96},{"p":"11","v":-167,"f":1.05},{"p":"11","v":-162,"f":1.0},{"p":"11","v":-158,"f":0.98},{"p":"11","v":-154,"f":1.02},{"p":"11","v":-150,"f":1.07},{"p":"11","v":-146,"f":1.02},{"p":"11","v":-142,"f":1.0},{"p":"11","v":-137,"f":1.04},{"p":"11","v":-133,"f":1.02},{"p":"11","v":-129,"f":0.98},{"p":"11","v":-125,"f":1.0},{"p":"11","v":-121,"f":0.96},{"p":"11","v":-117,"f":0.94},{"p":"11","v":-112,"f":0.9},{"p":"11","v":-108,"f":0.86},{"p":"11","v":-104,"f":0.82},{"p":"11","v":-100,"f":0.78},{"p":"11","v":-96,"f":0.74},{"p":"11","v":-92,"f":0.7},{"p":"11","v":-87,"f":0.67},{"p":"11","v":-83,"f":0.66},{"p":"11","v":-79,"f":0.7},{"p":"11","v":-75,"f":0.74},{"p":"11","v":-71,"f":0.86},{"p":"11","v":-67,"f":0.9},{"p":"11","v":-64,"f":0.94},{"p":"11","v":-60,"f":0.93},{"p":"11","v":-58,"f":0.89},{"p":"11","v":-56,"f":0.75},{"p":"11","v":-54,"f":0.57},{"p":"11","v":-52,"f":0.38},{"p":"11","v":-50,"f":0.2},{"p":"11","v":-48,"f":0.1},{"p":"11","v":-46,"f":0.04},{"p":"11","v":-42,"f":0.02},{"p":"11","v":-37,"f":0.0},{"p":"11","v":-33,"f":0.02},{"p":"11","v":-29,"f":-0.01},{"p":"11","v":-25,"f":0.01},{"p":"11","v":-21,"f":0.0},{"p":"11","v":-17,"f":0.02},{"p":"11","v":-12,"f":-0.02},{"p":"11","v":-8,"f":0.0},{"p":"11","v":-4,"f":-0.03},{"p":"11","v":0,"f":0.01},{"p":"11","v":4,"f":-0.02},{"p":"11","v":8,"f":0.0},{"p":"11","v":12,"f":-0.04},{"p":"11","v":17,"f":-0.01},{"p":"11","v":21,"f":0.0},{"p":"11","v":25,"f":-0.03},{"p":"11","v":29,"f":0.01},{"p":"11","v":33,"f":0.02},{"p":"11","v":37,"f":0.05},{"p":"11","v":39,"f":0.08},{"p":"11","v":42,"f":0.2},{"p":"11","v":46,"f":0.33},{"p":"11","v":49,"f":0.5},{"p":"11","v":52,"f":0.66},{"p":"11","v":55,"f":0.8},{"p":"11","v":58,"f":0.9},{"p":"11","v":62,"f":0.94},{"p":"11","v":66,"f":0.9},{"p":"11","v":71,"f":0.86},{"p":"11","v":75,"f":0.85},{"p":"11","v":79,"f":0.82},{"p":"11","v":83,"f":0.82},{"p":"11","v":87,"f":0.78},{"p":"11","v":92,"f":0.77},{"p":"11","v":96,"f":0.74},{"p":"11","v":100,"f":0.78},{"p":"11","v":104,"f":0.82},{"p":"11","v":108,"f":0.88},{"p":"11","v":111,"f":0.9},{"p":"11","v":114,"f":0.8},{"p":"11","v":117,"f":0.74},{"p":"11","v":121,"f":0.66},{"p":"11","v":125,"f":0.57},{"p":"11","v":129,"f":0.49},{"p":"11","v":133,"f":0.41},{"p":"11","v":137,"f":0.33},{"p":"11","v":142,"f":0.25},{"p":"11","v":146,"f":0.12},{"p":"11","v":148,"f":0.04},{"p":"11","v":150,"f":0.08},{"p":"11","v":154,"f":0.12},{"p":"11","v":158,"f":0.2},{"p":"11","v":161,"f":0.29},{"p":"11","v":165,"f":0.36},{"p":"11","v":169,"f":0.45},{"p":"11","v":173,"f":0.5},{"p":"11","v":178,"f":0.57},{"p":"11","v":183,"f":0.62},{"p":"11","v":186,"f":0.66},{"p":"11","v":190,"f":0.78},{"p":"11","v":192,"f":0.86},{"p":"11","v":196,"f":0.94},{"p":"11","v":200,"f":0.98},{"p":"11","v":204,"f":0.96},{"p":"11","v":208,"f":0.97},{"p":"11","v":212,"f":0.94},{"p":"11","v":217,"f":0.92},{"p":"11","v":221,"f":0.98},{"p":"11","v":225,"f":0.98},{"p":"11","v":229,"f":0.93},{"p":"11","v":233,"f":0.94},{"p":"11","v":237,"f":0.9},{"p":"11","v":240,"f":0.86},{"p":"11","v":244,"f":0.76},{"p":"11","v":246,"f":0.74},{"p":"11","v":250,"f":0.78},
{"p":"12","v":-250,"f":0.07},{"p":"12","v":-246,"f":0.06},{"p":"12","v":-242,"f":0.1},{"p":"12","v":-237,"f":0.08},{"p":"12","v":-233,"f":0.05},{"p":"12","v":-229,"f":0.09},{"p":"12","v":-225,"f":0.13},{"p":"12","v":-221,"f":0.1},{"p":"12","v":-217,"f":0.08},{"p":"12","v":-212,"f":0.12},{"p":"12","v":-208,"f":0.15},{"p":"12","v":-204,"f":0.14},{"p":"12","v":-202,"f":0.19},{"p":"12","v":-200,"f":0.35},{"p":"12","v":-197,"f":0.47},{"p":"12","v":-192,"f":0.59},{"p":"12","v":-187,"f":0.6},{"p":"12","v":-183,"f":0.63},{"p":"12","v":-179,"f":0.64},{"p":"12","v":-175,"f":0.67},{"p":"12","v":-171,"f":0.66},{"p":"12","v":-167,"f":0.7},{"p":"12","v":-162,"f":0.72},{"p":"12","v":-158,"f":0.72},{"p":"12","v":-154,"f":0.74},{"p":"12","v":-150,"f":0.76},{"p":"12","v":-146,"f":0.75},{"p":"12","v":-142,"f":0.78},{"p":"12","v":-137,"f":0.77},{"p":"12","v":-133,"f":0.8},{"p":"12","v":-129,"f":0.84},{"p":"12","v":-125,"f":0.82},{"p":"12","v":-121,"f":0.86},{"p":"12","v":-117,"f":0.9},{"p":"12","v":-112,"f":0.92},{"p":"12","v":-108,"f":0.94},{"p":"12","v":-104,"f":0.96},{"p":"12","v":-100,"f":0.88},{"p":"12","v":-96,"f":0.82},{"p":"12","v":-92,"f":0.8},{"p":"12","v":-87,"f":0.72},{"p":"12","v":-83,"f":0.67},{"p":"12","v":-79,"f":0.72},{"p":"12","v":-75,"f":0.8},{"p":"12","v":-71,"f":0.88},{"p":"12","v":-67,"f":0.92},{"p":"12","v":-62,"f":0.96},{"p":"12","v":-60,"f":0.96},{"p":"12","v":-58,"f":0.9},{"p":"12","v":-56,"f":0.72},{"p":"12","v":-54,"f":0.5},{"p":"12","v":-52,"f":0.31},{"p":"12","v":-49,"f":0.15},{"p":"12","v":-46,"f":0.07},{"p":"12","v":-42,"f":0.02},{"p":"12","v":-37,"f":0.0},{"p":"12","v":-33,"f":-0.02},{"p":"12","v":-29,"f":0.02},{"p":"12","v":-25,"f":0.0},{"p":"12","v":-21,"f":0.05},{"p":"12","v":-17,"f":0.01},{"p":"12","v":-12,"f":-0.02},{"p":"12","v":-8,"f":0.02},{"p":"12","v":-4,"f":0.06},{"p":"12","v":0,"f":0.0},{"p":"12","v":4,"f":-0.02},{"p":"12","v":8,"f":0.04},{"p":"12","v":12,"f":0.0},{"p":"12","v":17,"f":0.05},{"p":"12","v":21,"f":0.02},{"p":"12","v":25,"f":0.0},{"p":"12","v":29,"f":0.03},{"p":"12","v":33,"f":0.01},{"p":"12","v":37,"f":0.04},{"p":"12","v":40,"f":0.08},{"p":"12","v":42,"f":0.15},{"p":"12","v":46,"f":0.3},{"p":"12","v":48,"f":0.47},{"p":"12","v":52,"f":0.65},{"p":"12","v":54,"f":0.8},{"p":"12","v":58,"f":0.9},{"p":"12","v":61,"f":0.96},{"p":"12","v":67,"f":1.0},{"p":"12","v":71,"f":0.99},{"p":"12","v":75,"f":1.0},{"p":"12","v":83,"f":1.01},{"p":"12","v":87,"f":0.98},{"p":"12","v":92,"f":0.98},{"p":"12","v":96,"f":0.97},{"p":"12","v":100,"f":0.94},{"p":"12","v":104,"f":0.9},{"p":"12","v":108,"f":0.92},{"p":"12","v":112,"f":0.96},{"p":"12","v":117,"f":0.95},{"p":"12","v":121,"f":0.94},{"p":"12","v":125,"f":0.92},{"p":"12","v":129,"f":0.95},{"p":"12","v":133,"f":0.93},{"p":"12","v":137,"f":0.9},{"p":"12","v":142,"f":0.9},{"p":"12","v":146,"f":0.88},{"p":"12","v":150,"f":0.9},{"p":"12","v":154,"f":0.94},{"p":"12","v":158,"f":0.96},{"p":"12","v":162,"f":0.98},{"p":"12","v":167,"f":1.0},{"p":"12","v":171,"f":1.04},{"p":"12","v":175,"f":1.0},{"p":"12","v":179,"f":0.96},{"p":"12","v":183,"f":0.94},{"p":"12","v":187,"f":0.88},{"p":"12","v":192,"f":0.84},{"p":"12","v":196,"f":0.8},{"p":"12","v":200,"f":0.82},{"p":"12","v":204,"f":0.78},{"p":"12","v":208,"f":0.74},{"p":"12","v":212,"f":0.72},{"p":"12","v":217,"f":0.7},{"p":"12","v":221,"f":0.66},{"p":"12","v":225,"f":0.63},{"p":"12","v":229,"f":0.7},{"p":"12","v":233,"f":0.8},{"p":"12","v":237,"f":0.9},{"p":"12","v":242,"f":1.0},{"p":"12","v":246,"f":0.98},{"p":"12","v":250,"f":0.96},
{"p":"13","v":-250,"f":0.18},{"p":"13","v":-246,"f":0.02},{"p":"13","v":-242,"f":0.03},{"p":"13","v":-237,"f":0.02},{"p":"13","v":-233,"f":0.04},{"p":"13","v":-229,"f":0.02},{"p":"13","v":-225,"f":0.03},{"p":"13","v":-221,"f":0.05},{"p":"13","v":-217,"f":0.02},{"p":"13","v":-212,"f":0.04},{"p":"13","v":-208,"f":0.03},{"p":"13","v":-204,"f":0.05},{"p":"13","v":-200,"f":0.02},{"p":"13","v":-196,"f":0.04},{"p":"13","v":-192,"f":0.03},{"p":"13","v":-187,"f":0.05},{"p":"13","v":-183,"f":0.02},{"p":"13","v":-179,"f":0.04},{"p":"13","v":-175,"f":0.03},{"p":"13","v":-171,"f":0.02},{"p":"13","v":-167,"f":0.04},{"p":"13","v":-162,"f":0.03},{"p":"13","v":-158,"f":0.06},{"p":"13","v":-156,"f":0.2},{"p":"13","v":-154,"f":0.34},{"p":"13","v":-150,"f":0.66},{"p":"13","v":-146,"f":0.82},{"p":"13","v":-144,"f":0.92},{"p":"13","v":-142,"f":0.93},{"p":"13","v":-137,"f":0.96},{"p":"13","v":-133,"f":0.97},{"p":"13","v":-129,"f":0.98},{"p":"13","v":-125,"f":1.05},{"p":"13","v":-122,"f":1.12},{"p":"13","v":-119,"f":1.08},{"p":"13","v":-117,"f":1.04},{"p":"13","v":-112,"f":1.0},{"p":"13","v":-108,"f":1.0},{"p":"13","v":-104,"f":0.9},{"p":"13","v":-102,"f":0.75},{"p":"13","v":-100,"f":0.72},{"p":"13","v":-96,"f":0.67},{"p":"13","v":-92,"f":0.55},{"p":"13","v":-89,"f":0.47},{"p":"13","v":-85,"f":0.38},{"p":"13","v":-83,"f":0.3},{"p":"13","v":-79,"f":0.24},{"p":"13","v":-75,"f":0.18},{"p":"13","v":-71,"f":0.16},{"p":"13","v":-67,"f":0.14},{"p":"13","v":-62,"f":0.12},{"p":"13","v":-58,"f":0.1},{"p":"13","v":-54,"f":0.08},{"p":"13","v":-50,"f":0.06},{"p":"13","v":-46,"f":0.04},{"p":"13","v":-42,"f":0.03},{"p":"13","v":-37,"f":0.05},{"p":"13","v":-33,"f":0.02},{"p":"13","v":-29,"f":0.04},{"p":"13","v":-25,"f":0.02},{"p":"13","v":-21,"f":0.05},{"p":"13","v":-17,"f":0.03},{"p":"13","v":-12,"f":0.06},{"p":"13","v":-8,"f":0.02},{"p":"13","v":-4,"f":0.04},{"p":"13","v":0,"f":0.03},{"p":"13","v":4,"f":0.05},{"p":"13","v":8,"f":0.02},{"p":"13","v":12,"f":0.06},{"p":"13","v":17,"f":0.03},{"p":"13","v":21,"f":0.04},{"p":"13","v":25,"f":0.02},{"p":"13","v":29,"f":0.05},{"p":"13","v":33,"f":0.03},{"p":"13","v":37,"f":0.06},{"p":"13","v":42,"f":0.1},{"p":"13","v":44,"f":0.4},{"p":"13","v":46,"f":0.55},{"p":"13","v":50,"f":0.6},{"p":"13","v":54,"f":0.63},{"p":"13","v":58,"f":0.65},{"p":"13","v":62,"f":0.67},{"p":"13","v":67,"f":0.66},{"p":"13","v":71,"f":0.68},{"p":"13","v":75,"f":0.69},{"p":"13","v":79,"f":0.7},{"p":"13","v":83,"f":0.71},{"p":"13","v":87,"f":0.7},{"p":"13","v":92,"f":0.72},{"p":"13","v":96,"f":0.74},{"p":"13","v":100,"f":0.74},{"p":"13","v":104,"f":0.76},{"p":"13","v":108,"f":0.8},{"p":"13","v":112,"f":0.78},{"p":"13","v":117,"f":0.82},{"p":"13","v":121,"f":0.84},{"p":"13","v":125,"f":0.84},{"p":"13","v":129,"f":0.88},{"p":"13","v":133,"f":0.9},{"p":"13","v":137,"f":0.92},{"p":"13","v":142,"f":0.92},{"p":"13","v":146,"f":0.96},{"p":"13","v":150,"f":0.9},{"p":"13","v":154,"f":0.77},{"p":"13","v":158,"f":0.8},{"p":"13","v":162,"f":0.84},{"p":"13","v":167,"f":0.78},{"p":"13","v":171,"f":0.69},{"p":"13","v":175,"f":0.76},{"p":"13","v":179,"f":0.84},{"p":"13","v":183,"f":0.9},{"p":"13","v":187,"f":0.92},{"p":"13","v":192,"f":0.63},{"p":"13","v":196,"f":0.4},{"p":"13","v":198,"f":0.26},{"p":"13","v":200,"f":0.15},{"p":"13","v":204,"f":0.03},{"p":"13","v":208,"f":0.05},{"p":"13","v":212,"f":0.02},{"p":"13","v":217,"f":0.04},{"p":"13","v":221,"f":0.02},{"p":"13","v":225,"f":0.05},{"p":"13","v":229,"f":0.03},{"p":"13","v":233,"f":0.05},{"p":"13","v":237,"f":0.04},{"p":"13","v":242,"f":0.06},{"p":"13","v":246,"f":0.08},{"p":"13","v":250,"f":0.1},
{"p":"14","v":-250,"f":0.1},{"p":"14","v":-246,"f":0.13},{"p":"14","v":-242,"f":0.15},{"p":"14","v":-237,"f":0.17},{"p":"14","v":-233,"f":0.19},{"p":"14","v":-229,"f":0.16},{"p":"14","v":-225,"f":0.13},{"p":"14","v":-221,"f":0.08},{"p":"14","v":-217,"f":0.02},{"p":"14","v":-212,"f":0.03},{"p":"14","v":-208,"f":0.01},{"p":"14","v":-204,"f":0.02},{"p":"14","v":-200,"f":0.0},{"p":"14","v":-196,"f":0.02},{"p":"14","v":-192,"f":0.04},{"p":"14","v":-187,"f":0.02},{"p":"14","v":-183,"f":0.0},{"p":"14","v":-179,"f":0.03},{"p":"14","v":-175,"f":0.02},{"p":"14","v":-171,"f":0.0},{"p":"14","v":-167,"f":0.03},{"p":"14","v":-162,"f":0.01},{"p":"14","v":-158,"f":0.02},{"p":"14","v":-154,"f":0.0},{"p":"14","v":-150,"f":0.03},{"p":"14","v":-146,"f":0.01},{"p":"14","v":-142,"f":0.02},{"p":"14","v":-137,"f":0.03},{"p":"14","v":-133,"f":0.05},{"p":"14","v":-129,"f":0.07},{"p":"14","v":-125,"f":0.2},{"p":"14","v":-122,"f":0.31},{"p":"14","v":-119,"f":0.5},{"p":"14","v":-117,"f":0.63},{"p":"14","v":-114,"f":0.75},{"p":"14","v":-111,"f":0.84},{"p":"14","v":-108,"f":0.86},{"p":"14","v":-104,"f":0.88},{"p":"14","v":-100,"f":0.86},{"p":"14","v":-96,"f":0.84},{"p":"14","v":-92,"f":0.82},{"p":"14","v":-89,"f":0.8},{"p":"14","v":-86,"f":0.74},{"p":"14","v":-83,"f":0.72},{"p":"14","v":-80,"f":0.76},{"p":"14","v":-77,"f":0.8},{"p":"14","v":-73,"f":0.86},{"p":"14","v":-69,"f":0.92},{"p":"14","v":-66,"f":0.98},{"p":"14","v":-64,"f":1.04},{"p":"14","v":-61,"f":0.96},{"p":"14","v":-58,"f":0.88},{"p":"14","v":-56,"f":0.7},{"p":"14","v":-54,"f":0.55},{"p":"14","v":-52,"f":0.39},{"p":"14","v":-49,"f":0.2},{"p":"14","v":-46,"f":0.07},{"p":"14","v":-42,"f":0.03},{"p":"14","v":-37,"f":0.02},{"p":"14","v":-33,"f":0.01},{"p":"14","v":-29,"f":0.02},{"p":"14","v":-25,"f":0.0},{"p":"14","v":-21,"f":0.03},{"p":"14","v":-17,"f":0.02},{"p":"14","v":-12,"f":0.04},{"p":"14","v":-8,"f":0.01},{"p":"14","v":-4,"f":0.02},{"p":"14","v":0,"f":0.03},{"p":"14","v":4,"f":0.01},{"p":"14","v":8,"f":0.02},{"p":"14","v":12,"f":0.04},{"p":"14","v":17,"f":0.02},{"p":"14","v":21,"f":0.03},{"p":"14","v":25,"f":0.02},{"p":"14","v":29,"f":0.03},{"p":"14","v":33,"f":0.01},{"p":"14","v":37,"f":0.03},{"p":"14","v":40,"f":0.08},{"p":"14","v":42,"f":0.15},{"p":"14","v":45,"f":0.35},{"p":"14","v":48,"f":0.55},{"p":"14","v":52,"f":0.72},{"p":"14","v":56,"f":0.82},{"p":"14","v":60,"f":0.88},{"p":"14","v":63,"f":0.92},{"p":"14","v":67,"f":0.96},{"p":"14","v":71,"f":1.0},{"p":"14","v":75,"f":1.06},{"p":"14","v":78,"f":1.12},{"p":"14","v":81,"f":1.08},{"p":"14","v":83,"f":1.04},{"p":"14","v":88,"f":0.95},{"p":"14","v":92,"f":0.88},{"p":"14","v":96,"f":0.78},{"p":"14","v":100,"f":0.67},{"p":"14","v":104,"f":0.55},{"p":"14","v":108,"f":0.43},{"p":"14","v":112,"f":0.33},{"p":"14","v":117,"f":0.23},{"p":"14","v":121,"f":0.19},{"p":"14","v":125,"f":0.15},{"p":"14","v":129,"f":0.12},{"p":"14","v":133,"f":0.1},{"p":"14","v":137,"f":0.08},{"p":"14","v":142,"f":0.06},{"p":"14","v":146,"f":0.04},{"p":"14","v":150,"f":0.02},{"p":"14","v":154,"f":0.03},{"p":"14","v":158,"f":0.05},{"p":"14","v":162,"f":0.04},{"p":"14","v":167,"f":0.02},{"p":"14","v":171,"f":0.03},{"p":"14","v":175,"f":0.02},{"p":"14","v":179,"f":0.04},{"p":"14","v":183,"f":0.02},{"p":"14","v":187,"f":0.03},{"p":"14","v":192,"f":0.04},{"p":"14","v":196,"f":0.06},{"p":"14","v":200,"f":0.07},{"p":"14","v":204,"f":0.03},{"p":"14","v":208,"f":0.02},{"p":"14","v":212,"f":0.04},{"p":"14","v":217,"f":0.08},{"p":"14","v":221,"f":0.07},{"p":"14","v":225,"f":0.09},{"p":"14","v":229,"f":0.15},{"p":"14","v":233,"f":0.12},{"p":"14","v":237,"f":0.08},{"p":"14","v":239,"f":0.06},{"p":"14","v":242,"f":0.2},{"p":"14","v":246,"f":0.39},{"p":"14","v":250,"f":0.51}
],
"model":[
{"p":"g","v":-166,"f":0.84},{"p":"g","v":-150,"f":0.82},{"p":"g","v":-133,"f":0.8},{"p":"g","v":-124,"f":0.78},{"p":"g","v":-120,"f":0.75},{"p":"g","v":-116,"f":0.7},{"p":"g","v":-113,"f":0.6},{"p":"g","v":-110,"f":0.45},{"p":"g","v":-107,"f":0.25},{"p":"g","v":-104,"f":0.1},{"p":"g","v":-100,"f":0.03},{"p":"g","v":-95,"f":0.01},{"p":"g","v":26,"f":0.01},
{"p":"d","v":-198,"f":0.72},{"p":"d","v":-194,"f":0.5},{"p":"d","v":-190,"f":0.3},{"p":"d","v":-186,"f":0.15},{"p":"d","v":-182,"f":0.1},{"p":"d","v":-178,"f":0.11},{"p":"d","v":-174,"f":0.2},{"p":"d","v":-170,"f":0.4},{"p":"d","v":-166,"f":0.62},{"p":"d","v":-162,"f":0.74},{"p":"d","v":-156,"f":0.78},{"p":"d","v":-148,"f":0.77},{"p":"d","v":-142,"f":0.73},{"p":"d","v":-138,"f":0.67},{"p":"d","v":-135,"f":0.64},{"p":"d","v":-130,"f":0.67},{"p":"d","v":-125,"f":0.7},{"p":"d","v":-121,"f":0.68},{"p":"d","v":-117,"f":0.6},{"p":"d","v":-113,"f":0.42},{"p":"d","v":-110,"f":0.25},{"p":"d","v":-106,"f":0.12},{"p":"d","v":-102,"f":0.05},{"p":"d","v":-96,"f":0.02},{"p":"d","v":-88,"f":0.02},{"p":"d","v":-82,"f":0.04},{"p":"d","v":-76,"f":0.1},{"p":"d","v":-72,"f":0.2},{"p":"d","v":-68,"f":0.3},{"p":"d","v":-65,"f":0.35},{"p":"d","v":-62,"f":0.3},{"p":"d","v":-59,"f":0.18},{"p":"d","v":-56,"f":0.08},{"p":"d","v":-52,"f":0.03},{"p":"d","v":-45,"f":0.0},{"p":"d","v":52,"f":0.0},{"p":"d","v":56,"f":0.03},{"p":"d","v":60,"f":0.1},{"p":"d","v":64,"f":0.22},{"p":"d","v":68,"f":0.4},{"p":"d","v":72,"f":0.58},{"p":"d","v":76,"f":0.72},{"p":"d","v":80,"f":0.82},{"p":"d","v":85,"f":0.87},{"p":"d","v":93,"f":0.9},{"p":"d","v":110,"f":0.92},{"p":"d","v":135,"f":0.95},
{"p":"e","v":-166,"f":1.0},{"p":"e","v":-120,"f":1.0},{"p":"e","v":-116,"f":0.97},{"p":"e","v":-113,"f":0.9},{"p":"e","v":-110,"f":0.72},{"p":"e","v":-107,"f":0.5},{"p":"e","v":-104,"f":0.3},{"p":"e","v":-101,"f":0.15},{"p":"e","v":-97,"f":0.05},{"p":"e","v":-93,"f":0.02},{"p":"e","v":-89,"f":0.03},{"p":"e","v":-85,"f":0.07},{"p":"e","v":-81,"f":0.15},{"p":"e","v":-77,"f":0.27},{"p":"e","v":-73,"f":0.4},{"p":"e","v":-69,"f":0.5},{"p":"e","v":-66,"f":0.55},{"p":"e","v":-63,"f":0.55},{"p":"e","v":-60,"f":0.45},{"p":"e","v":-57,"f":0.3},{"p":"e","v":-54,"f":0.15},{"p":"e","v":-51,"f":0.06},{"p":"e","v":-47,"f":0.02},{"p":"e","v":-42,"f":0.0},{"p":"e","v":59,"f":0.0},
{"p":"6","v":-187,"f":0.9},{"p":"6","v":-150,"f":0.9},{"p":"6","v":-130,"f":0.89},{"p":"6","v":-125,"f":0.86},{"p":"6","v":-121,"f":0.8},{"p":"6","v":-117,"f":0.7},{"p":"6","v":-113,"f":0.55},{"p":"6","v":-109,"f":0.4},{"p":"6","v":-105,"f":0.27},{"p":"6","v":-100,"f":0.15},{"p":"6","v":-96,"f":0.1},{"p":"6","v":-92,"f":0.08},{"p":"6","v":-88,"f":0.09},{"p":"6","v":-84,"f":0.12},{"p":"6","v":-80,"f":0.2},{"p":"6","v":-76,"f":0.35},{"p":"6","v":-72,"f":0.5},{"p":"6","v":-68,"f":0.6},{"p":"6","v":-65,"f":0.63},{"p":"6","v":-62,"f":0.6},{"p":"6","v":-59,"f":0.5},{"p":"6","v":-56,"f":0.33},{"p":"6","v":-53,"f":0.15},{"p":"6","v":-50,"f":0.05},{"p":"6","v":-46,"f":0.01},{"p":"6","v":-40,"f":0.0},{"p":"6","v":40,"f":0.0},{"p":"6","v":44,"f":0.04},{"p":"6","v":48,"f":0.15},{"p":"6","v":52,"f":0.32},{"p":"6","v":56,"f":0.52},{"p":"6","v":60,"f":0.68},{"p":"6","v":64,"f":0.78},{"p":"6","v":68,"f":0.85},{"p":"6","v":72,"f":0.89},{"p":"6","v":80,"f":0.91},{"p":"6","v":100,"f":0.92},{"p":"6","v":125,"f":0.97},{"p":"6","v":146,"f":1.0},
{"p":"8","v":-187,"f":0.98},{"p":"8","v":-125,"f":0.98},{"p":"8","v":-120,"f":0.97},{"p":"8","v":-116,"f":0.93},{"p":"8","v":-112,"f":0.85},{"p":"8","v":-108,"f":0.75},{"p":"8","v":-104,"f":0.62},{"p":"8","v":-100,"f":0.52},{"p":"8","v":-95,"f":0.45},{"p":"8","v":-90,"f":0.4},{"p":"8","v":-86,"f":0.36},{"p":"8","v":-82,"f":0.33},{"p":"8","v":-78,"f":0.36},{"p":"8","v":-75,"f":0.5},{"p":"8","v":-72,"f":0.65},{"p":"8","v":-69,"f":0.76},{"p":"8","v":-66,"f":0.8},{"p":"8","v":-63,"f":0.76},{"p":"8","v":-60,"f":0.62},{"p":"8","v":-57,"f":0.45},{"p":"8","v":-54,"f":0.28},{"p":"8","v":-51,"f":0.14},{"p":"8","v":-48,"f":0.06},{"p":"8","v":-44,"f":0.02},{"p":"8","v":-38,"f":0.0},{"p":"8","v":40,"f":0.0},{"p":"8","v":44,"f":0.05},{"p":"8","v":48,"f":0.18},{"p":"8","v":52,"f":0.37},{"p":"8","v":56,"f":0.55},{"p":"8","v":60,"f":0.7},{"p":"8","v":64,"f":0.8},{"p":"8","v":68,"f":0.86},{"p":"8","v":71,"f":0.89},
{"p":"10","v":-137,"f":0.66},{"p":"10","v":-129,"f":0.62},{"p":"10","v":-121,"f":0.68},{"p":"10","v":-112,"f":0.74},{"p":"10","v":-104,"f":0.76},{"p":"10","v":-100,"f":0.72},{"p":"10","v":-96,"f":0.66},{"p":"10","v":-92,"f":0.6},{"p":"10","v":-87,"f":0.57},{"p":"10","v":-83,"f":0.56},{"p":"10","v":-79,"f":0.6},{"p":"10","v":-75,"f":0.66},{"p":"10","v":-71,"f":0.74},{"p":"10","v":-67,"f":0.82},{"p":"10","v":-63,"f":0.87},{"p":"10","v":-60,"f":0.87},{"p":"10","v":-57,"f":0.8},{"p":"10","v":-54,"f":0.65},{"p":"10","v":-51,"f":0.42},{"p":"10","v":-48,"f":0.22},{"p":"10","v":-45,"f":0.1},{"p":"10","v":-42,"f":0.04},{"p":"10","v":-38,"f":0.02},{"p":"10","v":40,"f":0.02},{"p":"10","v":43,"f":0.08},{"p":"10","v":46,"f":0.2},{"p":"10","v":49,"f":0.33},{"p":"10","v":52,"f":0.45},{"p":"10","v":56,"f":0.57},{"p":"10","v":60,"f":0.66},{"p":"10","v":64,"f":0.73},{"p":"10","v":68,"f":0.8},{"p":"10","v":74,"f":0.86},{"p":"10","v":80,"f":0.91},{"p":"10","v":88,"f":0.95},{"p":"10","v":96,"f":0.97},
{"p":"11","v":-179,"f":1.0},{"p":"11","v":-125,"f":1.0},{"p":"11","v":-115,"f":0.99},{"p":"11","v":-110,"f":0.95},{"p":"11","v":-105,"f":0.87},{"p":"11","v":-100,"f":0.78},{"p":"11","v":-95,"f":0.7},{"p":"11","v":-90,"f":0.65},{"p":"11","v":-86,"f":0.63},{"p":"11","v":-82,"f":0.65},{"p":"11","v":-78,"f":0.72},{"p":"11","v":-74,"f":0.82},{"p":"11","v":-70,"f":0.9},{"p":"11","v":-66,"f":0.94},{"p":"11","v":-62,"f":0.95},{"p":"11","v":-59,"f":0.9},{"p":"11","v":-56,"f":0.72},{"p":"11","v":-53,"f":0.45},{"p":"11","v":-50,"f":0.2},{"p":"11","v":-47,"f":0.06},{"p":"11","v":-44,"f":0.02},{"p":"11","v":-38,"f":0.01},{"p":"11","v":36,"f":0.01},{"p":"11","v":40,"f":0.06},{"p":"11","v":44,"f":0.22},{"p":"11","v":48,"f":0.45},{"p":"11","v":52,"f":0.68},{"p":"11","v":56,"f":0.86},{"p":"11","v":60,"f":0.96},{"p":"11","v":62,"f":1.0},
{"p":"12","v":-129,"f":0.85},{"p":"12","v":-120,"f":0.9},{"p":"12","v":-112,"f":0.94},{"p":"12","v":-106,"f":0.95},{"p":"12","v":-102,"f":0.93},{"p":"12","v":-98,"f":0.88},{"p":"12","v":-94,"f":0.82},{"p":"12","v":-90,"f":0.76},{"p":"12","v":-86,"f":0.72},{"p":"12","v":-82,"f":0.72},{"p":"12","v":-78,"f":0.77},{"p":"12","v":-74,"f":0.84},{"p":"12","v":-70,"f":0.91},{"p":"12","v":-66,"f":0.95},{"p":"12","v":-62,"f":0.96},{"p":"12","v":-59,"f":0.92},{"p":"12","v":-56,"f":0.75},{"p":"12","v":-53,"f":0.48},{"p":"12","v":-50,"f":0.22},{"p":"12","v":-47,"f":0.07},{"p":"12","v":-43,"f":0.02},{"p":"12","v":-38,"f":0.01},{"p":"12","v":37,"f":0.01},{"p":"12","v":41,"f":0.06},{"p":"12","v":45,"f":0.22},{"p":"12","v":49,"f":0.48},{"p":"12","v":53,"f":0.72},{"p":"12","v":57,"f":0.88},{"p":"12","v":61,"f":0.96},{"p":"12","v":66,"f":0.99},{"p":"12","v":75,"f":1.0},{"p":"12","v":129,"f":1.0},
{"p":"14","v":-129,"f":0.02},{"p":"14","v":-125,"f":0.06},{"p":"14","v":-122,"f":0.2},{"p":"14","v":-119,"f":0.42},{"p":"14","v":-116,"f":0.65},{"p":"14","v":-112,"f":0.8},{"p":"14","v":-108,"f":0.86},{"p":"14","v":-104,"f":0.87},{"p":"14","v":-100,"f":0.86},{"p":"14","v":-96,"f":0.84},{"p":"14","v":-92,"f":0.82},{"p":"14","v":-88,"f":0.81},{"p":"14","v":-84,"f":0.82},{"p":"14","v":-80,"f":0.84},{"p":"14","v":-76,"f":0.88},{"p":"14","v":-72,"f":0.93},{"p":"14","v":-68,"f":0.97},{"p":"14","v":-64,"f":0.98},{"p":"14","v":-61,"f":0.95},{"p":"14","v":-58,"f":0.82},{"p":"14","v":-55,"f":0.6},{"p":"14","v":-52,"f":0.35},{"p":"14","v":-49,"f":0.15},{"p":"14","v":-46,"f":0.05},{"p":"14","v":-42,"f":0.01},{"p":"14","v":38,"f":0.01},{"p":"14","v":41,"f":0.06},{"p":"14","v":44,"f":0.2},{"p":"14","v":47,"f":0.42},{"p":"14","v":50,"f":0.62},{"p":"14","v":54,"f":0.78},{"p":"14","v":58,"f":0.88},{"p":"14","v":62,"f":0.94},{"p":"14","v":67,"f":0.97},{"p":"14","v":72,"f":0.99},{"p":"14","v":80,"f":1.0},{"p":"14","v":92,"f":1.0}
]
},
"hconcat":[
{"vconcat":[
{"width":200,"height":61,"resolve":{"axis":{"x":"independent","y":"independent"}},"layer":[
{"data":{"name":"ticks"},"mark":{"type":"rule","strokeWidth":1.2},"encoding":{"x":{"field":"v","type":"quantitative","scale":{"domain":[-250,250],"nice":false,"zero":false},"axis":{"orient":"bottom","values":[-200,-150,-100,-50,0,50,100,150,200],"labelExpr":"''","labelFontSize":0,"labelPadding":0,"ticks":true,"tickSize":4,"offset":-4,"title":null}},"y":{"datum":1,"type":"quantitative","scale":{"domain":[-0.09,1.4],"nice":false,"zero":false},"axis":{"orient":"left","values":[0,0.5,1],"labelExpr":"''","labelFontSize":0,"labelPadding":0,"ticks":true,"tickSize":4,"offset":-4,"title":null}},"y2":{"datum":1.2},"color":{"field":"c","type":"nominal","scale":{"domain":["g","r"],"range":["#3fd23f","#ee3a3a"]},"legend":null}}},
{"data":{"name":"cont"},"mark":{"type":"rule","color":"#2a2ae0","strokeWidth":1,"strokeDash":[13,6]},"encoding":{"y":{"field":"f","type":"quantitative","axis":{"orient":"right","values":[0,0.5,1],"labelExpr":"''","labelFontSize":0,"labelPadding":0,"ticks":true,"tickSize":4,"offset":-4,"title":null}}}},
{"data":{"name":"zero"},"mark":{"type":"rule","color":"#5fd35f","strokeWidth":1,"strokeDash":[2,4]},"encoding":{"y":{"field":"f","type":"quantitative","axis":null}}},
{"data":{"name":"spec"},"transform":[{"filter":"datum.p==='a'"}],"mark":{"type":"line","color":"#262626","strokeWidth":1,"interpolate":"step","clip":true},"encoding":{"x":{"field":"v","type":"quantitative","axis":{"orient":"top","values":[-200,-150,-100,-50,0,50,100,150,200],"labelExpr":"''","labelFontSize":0,"labelPadding":0,"ticks":true,"tickSize":4,"offset":-4,"title":null}},"y":{"field":"f","type":"quantitative","axis":{"orient":"left","values":[0,0.5,1],"format":".1f","ticks":false,"labelPadding":5,"labelFont":"Liberation Serif","labelFontSize":11,"labelColor":"#222","title":null}}}},
{"data":{"name":"cont"},"mark":{"type":"text","font":"DejaVu Serif","fontSize":10,"align":"left","baseline":"alphabetic","color":"#333"},"encoding":{"x":{"datum":-222,"type":"quantitative","axis":null},"y":{"datum":1.06,"type":"quantitative","axis":null},"text":{"value":"H I Lyα"}}}
]},
{"width":200,"height":61,"resolve":{"axis":{"x":"independent","y":"independent"}},"layer":[
{"data":{"name":"ticks"},"mark":{"type":"rule","strokeWidth":1.2},"encoding":{"x":{"field":"v","type":"quantitative","scale":{"domain":[-250,250],"nice":false,"zero":false},"axis":{"orient":"bottom","values":[-200,-150,-100,-50,0,50,100,150,200],"labelExpr":"''","labelFontSize":0,"labelPadding":0,"ticks":true,"tickSize":4,"offset":-4,"title":null}},"y":{"datum":1,"type":"quantitative","scale":{"domain":[-0.09,1.4],"nice":false,"zero":false},"axis":{"orient":"left","values":[0,0.5,1],"labelExpr":"''","labelFontSize":0,"labelPadding":0,"ticks":true,"tickSize":4,"offset":-4,"title":null}},"y2":{"datum":1.2},"color":{"field":"c","type":"nominal","scale":{"domain":["g","r"],"range":["#3fd23f","#ee3a3a"]},"legend":null}}},
{"data":{"name":"cont"},"mark":{"type":"rule","color":"#2a2ae0","strokeWidth":1,"strokeDash":[13,6]},"encoding":{"y":{"field":"f","type":"quantitative","axis":{"orient":"right","values":[0,0.5,1],"labelExpr":"''","labelFontSize":0,"labelPadding":0,"ticks":true,"tickSize":4,"offset":-4,"title":null}}}},
{"data":{"name":"zero"},"mark":{"type":"rule","color":"#5fd35f","strokeWidth":1,"strokeDash":[2,4]},"encoding":{"y":{"field":"f","type":"quantitative","axis":null}}},
{"data":{"name":"spec"},"transform":[{"filter":"datum.p==='b'"}],"mark":{"type":"line","color":"#262626","strokeWidth":1,"interpolate":"step","clip":true},"encoding":{"x":{"field":"v","type":"quantitative","axis":{"orient":"top","values":[-200,-150,-100,-50,0,50,100,150,200],"labelExpr":"''","labelFontSize":0,"labelPadding":0,"ticks":true,"tickSize":4,"offset":-4,"title":null}},"y":{"field":"f","type":"quantitative","axis":{"orient":"left","values":[0,0.5,1],"format":".1f","ticks":false,"labelPadding":5,"labelFont":"Liberation Serif","labelFontSize":11,"labelColor":"#222","title":null}}}},
{"data":{"name":"cont"},"mark":{"type":"text","font":"DejaVu Serif","fontSize":10,"align":"left","baseline":"alphabetic","color":"#333"},"encoding":{"x":{"datum":-222,"type":"quantitative","axis":null},"y":{"datum":1.06,"type":"quantitative","axis":null},"text":{"value":"H I Lyβ"}}}
]},
{"width":200,"height":61,"resolve":{"axis":{"x":"independent","y":"independent"}},"layer":[
{"data":{"name":"ticks"},"mark":{"type":"rule","strokeWidth":1.2},"encoding":{"x":{"field":"v","type":"quantitative","scale":{"domain":[-250,250],"nice":false,"zero":false},"axis":{"orient":"bottom","values":[-200,-150,-100,-50,0,50,100,150,200],"labelExpr":"''","labelFontSize":0,"labelPadding":0,"ticks":true,"tickSize":4,"offset":-4,"title":null}},"y":{"datum":1,"type":"quantitative","scale":{"domain":[-0.09,1.4],"nice":false,"zero":false},"axis":{"orient":"left","values":[0,0.5,1],"labelExpr":"''","labelFontSize":0,"labelPadding":0,"ticks":true,"tickSize":4,"offset":-4,"title":null}},"y2":{"datum":1.2},"color":{"field":"c","type":"nominal","scale":{"domain":["g","r"],"range":["#3fd23f","#ee3a3a"]},"legend":null}}},
{"data":{"name":"cont"},"mark":{"type":"rule","color":"#2a2ae0","strokeWidth":1,"strokeDash":[13,6]},"encoding":{"y":{"field":"f","type":"quantitative","axis":{"orient":"right","values":[0,0.5,1],"labelExpr":"''","labelFontSize":0,"labelPadding":0,"ticks":true,"tickSize":4,"offset":-4,"title":null}}}},
{"data":{"name":"zero"},"mark":{"type":"rule","color":"#5fd35f","strokeWidth":1,"strokeDash":[2,4]},"encoding":{"y":{"field":"f","type":"quantitative","axis":null}}},
{"data":{"name":"spec"},"transform":[{"filter":"datum.p==='g'"}],"mark":{"type":"line","color":"#262626","strokeWidth":1,"interpolate":"step","clip":true},"encoding":{"x":{"field":"v","type":"quantitative","axis":{"orient":"top","values":[-200,-150,-100,-50,0,50,100,150,200],"labelExpr":"''","labelFontSize":0,"labelPadding":0,"ticks":true,"tickSize":4,"offset":-4,"title":null}},"y":{"field":"f","type":"quantitative","axis":{"orient":"left","values":[0,0.5,1],"format":".1f","ticks":false,"labelPadding":5,"labelFont":"Liberation Serif","labelFontSize":11,"labelColor":"#222","title":null}}}},
{"data":{"name":"model"},"transform":[{"filter":"datum.p==='g'"}],"mark":{"type":"line","color":"#e3261e","strokeWidth":1.4,"clip":true},"encoding":{"x":{"field":"v","type":"quantitative","axis":null},"y":{"field":"f","type":"quantitative","axis":null}}},
{"data":{"name":"cont"},"mark":{"type":"text","font":"DejaVu Serif","fontSize":10,"align":"left","baseline":"alphabetic","color":"#333"},"encoding":{"x":{"datum":-222,"type":"quantitative","axis":null},"y":{"datum":1.06,"type":"quantitative","axis":null},"text":{"value":"H I Lyγ"}}}
]},
{"width":200,"height":61,"resolve":{"axis":{"x":"independent","y":"independent"}},"layer":[
{"data":{"name":"ticks"},"mark":{"type":"rule","strokeWidth":1.2},"encoding":{"x":{"field":"v","type":"quantitative","scale":{"domain":[-250,250],"nice":false,"zero":false},"axis":{"orient":"bottom","values":[-200,-150,-100,-50,0,50,100,150,200],"labelExpr":"''","labelFontSize":0,"labelPadding":0,"ticks":true,"tickSize":4,"offset":-4,"title":null}},"y":{"datum":1,"type":"quantitative","scale":{"domain":[-0.09,1.4],"nice":false,"zero":false},"axis":{"orient":"left","values":[0,0.5,1],"labelExpr":"''","labelFontSize":0,"labelPadding":0,"ticks":true,"tickSize":4,"offset":-4,"title":null}},"y2":{"datum":1.2},"color":{"field":"c","type":"nominal","scale":{"domain":["g","r"],"range":["#3fd23f","#ee3a3a"]},"legend":null}}},
{"data":{"name":"cont"},"mark":{"type":"rule","color":"#2a2ae0","strokeWidth":1,"strokeDash":[13,6]},"encoding":{"y":{"field":"f","type":"quantitative","axis":{"orient":"right","values":[0,0.5,1],"labelExpr":"''","labelFontSize":0,"labelPadding":0,"ticks":true,"tickSize":4,"offset":-4,"title":null}}}},
{"data":{"name":"zero"},"mark":{"type":"rule","color":"#5fd35f","strokeWidth":1,"strokeDash":[2,4]},"encoding":{"y":{"field":"f","type":"quantitative","axis":null}}},
{"data":{"name":"spec"},"transform":[{"filter":"datum.p==='d'"}],"mark":{"type":"line","color":"#262626","strokeWidth":1,"interpolate":"step","clip":true},"encoding":{"x":{"field":"v","type":"quantitative","axis":{"orient":"top","values":[-200,-150,-100,-50,0,50,100,150,200],"labelExpr":"''","labelFontSize":0,"labelPadding":0,"ticks":true,"tickSize":4,"offset":-4,"title":null}},"y":{"field":"f","type":"quantitative","axis":{"orient":"left","values":[0,0.5,1],"format":".1f","ticks":false,"labelPadding":5,"labelFont":"Liberation Serif","labelFontSize":11,"labelColor":"#222","title":null}}}},
{"data":{"name":"model"},"transform":[{"filter":"datum.p==='d'"}],"mark":{"type":"line","color":"#e3261e","strokeWidth":1.4,"clip":true},"encoding":{"x":{"field":"v","type":"quantitative","axis":null},"y":{"field":"f","type":"quantitative","axis":null}}},
{"data":{"name":"cont"},"mark":{"type":"text","font":"DejaVu Serif","fontSize":10,"align":"left","baseline":"alphabetic","color":"#333"},"encoding":{"x":{"datum":-222,"type":"quantitative","axis":null},"y":{"datum":1.06,"type":"quantitative","axis":null},"text":{"value":"H I Lyδ"}}}
]},
{"width":200,"height":61,"resolve":{"axis":{"x":"independent","y":"independent"}},"layer":[
{"data":{"name":"ticks"},"mark":{"type":"rule","strokeWidth":1.2},"encoding":{"x":{"field":"v","type":"quantitative","scale":{"domain":[-250,250],"nice":false,"zero":false},"axis":{"orient":"bottom","values":[-200,-150,-100,-50,0,50,100,150,200],"labelExpr":"''","labelFontSize":0,"labelPadding":0,"ticks":true,"tickSize":4,"offset":-4,"title":null}},"y":{"datum":1,"type":"quantitative","scale":{"domain":[-0.09,1.4],"nice":false,"zero":false},"axis":{"orient":"left","values":[0,0.5,1],"labelExpr":"''","labelFontSize":0,"labelPadding":0,"ticks":true,"tickSize":4,"offset":-4,"title":null}},"y2":{"datum":1.2},"color":{"field":"c","type":"nominal","scale":{"domain":["g","r"],"range":["#3fd23f","#ee3a3a"]},"legend":null}}},
{"data":{"name":"cont"},"mark":{"type":"rule","color":"#8a8af0","strokeWidth":1,"strokeDash":[13,6]},"encoding":{"y":{"field":"f","type":"quantitative","axis":{"orient":"right","values":[0,0.5,1],"labelExpr":"''","labelFontSize":0,"labelPadding":0,"ticks":true,"tickSize":4,"offset":-4,"title":null}}}},
{"data":{"name":"zero"},"mark":{"type":"rule","color":"#5fd35f","strokeWidth":1,"strokeDash":[2,4]},"encoding":{"y":{"field":"f","type":"quantitative","axis":null}}},
{"data":{"name":"spec"},"transform":[{"filter":"datum.p==='e'"}],"mark":{"type":"line","color":"#262626","strokeWidth":1,"interpolate":"step","clip":true},"encoding":{"x":{"field":"v","type":"quantitative","axis":{"orient":"top","values":[-200,-150,-100,-50,0,50,100,150,200],"labelExpr":"''","labelFontSize":0,"labelPadding":0,"ticks":true,"tickSize":4,"offset":-4,"title":null}},"y":{"field":"f","type":"quantitative","axis":{"orient":"left","values":[0,0.5,1],"format":".1f","ticks":false,"labelPadding":5,"labelFont":"Liberation Serif","labelFontSize":11,"labelColor":"#222","title":null}}}},
{"data":{"name":"model"},"transform":[{"filter":"datum.p==='e'"}],"mark":{"type":"line","color":"#e3261e","strokeWidth":1.4,"clip":true},"encoding":{"x":{"field":"v","type":"quantitative","axis":{"orient":"bottom","values":[-200,-100,0,100,200],"ticks":false,"labelPadding":5,"labelFont":"DejaVu Sans","labelFontSize":10,"labelColor":"#222","title":null}},"y":{"field":"f","type":"quantitative","axis":null}}},
{"data":{"name":"cont"},"mark":{"type":"text","font":"DejaVu Serif","fontSize":10,"align":"left","baseline":"alphabetic","color":"#333"},"encoding":{"x":{"datum":-222,"type":"quantitative","axis":null},"y":{"datum":1.06,"type":"quantitative","axis":null},"text":{"value":"H I Lyε"}}}
]}
],"spacing":11,"bounds":"flush"},
{"vconcat":[
{"width":200,"height":61,"resolve":{"axis":{"x":"independent","y":"independent"}},"layer":[
{"data":{"name":"ticks"},"mark":{"type":"rule","strokeWidth":1.2},"encoding":{"x":{"field":"v","type":"quantitative","scale":{"domain":[-250,250],"nice":false,"zero":false},"axis":{"orient":"bottom","values":[-200,-150,-100,-50,0,50,100,150,200],"labelExpr":"''","labelFontSize":0,"labelPadding":0,"ticks":true,"tickSize":4,"offset":-4,"title":null}},"y":{"datum":1,"type":"quantitative","scale":{"domain":[-0.09,1.4],"nice":false,"zero":false},"axis":{"orient":"left","values":[0,0.5,1],"labelExpr":"''","labelFontSize":0,"labelPadding":0,"ticks":true,"tickSize":4,"offset":-4,"title":null}},"y2":{"datum":1.2},"color":{"field":"c","type":"nominal","scale":{"domain":["g","r"],"range":["#3fd23f","#ee3a3a"]},"legend":null}}},
{"data":{"name":"cont"},"mark":{"type":"rule","color":"#8a8af0","strokeWidth":1,"strokeDash":[13,6]},"encoding":{"y":{"field":"f","type":"quantitative","axis":{"orient":"right","values":[0,0.5,1],"labelExpr":"''","labelFontSize":0,"labelPadding":0,"ticks":true,"tickSize":4,"offset":-4,"title":null}}}},
{"data":{"name":"zero"},"mark":{"type":"rule","color":"#5fd35f","strokeWidth":1,"strokeDash":[2,4]},"encoding":{"y":{"field":"f","type":"quantitative","axis":null}}},
{"data":{"name":"spec"},"transform":[{"filter":"datum.p==='6'"}],"mark":{"type":"line","color":"#262626","strokeWidth":1,"interpolate":"step","clip":true},"encoding":{"x":{"field":"v","type":"quantitative","axis":{"orient":"top","values":[-200,-150,-100,-50,0,50,100,150,200],"labelExpr":"''","labelFontSize":0,"labelPadding":0,"ticks":true,"tickSize":4,"offset":-4,"title":null}},"y":{"field":"f","type":"quantitative","axis":null}}},
{"data":{"name":"model"},"transform":[{"filter":"datum.p==='6'"}],"mark":{"type":"line","color":"#e3261e","strokeWidth":1.4,"clip":true},"encoding":{"x":{"field":"v","type":"quantitative","axis":null},"y":{"field":"f","type":"quantitative","axis":null}}},
{"data":{"name":"cont"},"mark":{"type":"text","font":"DejaVu Serif","fontSize":10,"align":"left","baseline":"alphabetic","color":"#333"},"encoding":{"x":{"datum":-245,"type":"quantitative","axis":null},"y":{"datum":1.06,"type":"quantitative","axis":null},"text":{"value":"H I Ly6"}}}
]},
{"width":200,"height":61,"resolve":{"axis":{"x":"independent","y":"independent"}},"layer":[
{"data":{"name":"ticks"},"mark":{"type":"rule","strokeWidth":1.2},"encoding":{"x":{"field":"v","type":"quantitative","scale":{"domain":[-250,250],"nice":false,"zero":false},"axis":{"orient":"bottom","values":[-200,-150,-100,-50,0,50,100,150,200],"labelExpr":"''","labelFontSize":0,"labelPadding":0,"ticks":true,"tickSize":4,"offset":-4,"title":null}},"y":{"datum":1,"type":"quantitative","scale":{"domain":[-0.09,1.4],"nice":false,"zero":false},"axis":{"orient":"left","values":[0,0.5,1],"labelExpr":"''","labelFontSize":0,"labelPadding":0,"ticks":true,"tickSize":4,"offset":-4,"title":null}},"y2":{"datum":1.2},"color":{"field":"c","type":"nominal","scale":{"domain":["g","r"],"range":["#3fd23f","#ee3a3a"]},"legend":null}}},
{"data":{"name":"cont"},"mark":{"type":"rule","color":"#8a8af0","strokeWidth":1,"strokeDash":[13,6]},"encoding":{"y":{"field":"f","type":"quantitative","axis":{"orient":"right","values":[0,0.5,1],"labelExpr":"''","labelFontSize":0,"labelPadding":0,"ticks":true,"tickSize":4,"offset":-4,"title":null}}}},
{"data":{"name":"zero"},"mark":{"type":"rule","color":"#5fd35f","strokeWidth":1,"strokeDash":[2,4]},"encoding":{"y":{"field":"f","type":"quantitative","axis":null}}},
{"data":{"name":"spec"},"transform":[{"filter":"datum.p==='7'"}],"mark":{"type":"line","color":"#262626","strokeWidth":1,"interpolate":"step","clip":true},"encoding":{"x":{"field":"v","type":"quantitative","axis":{"orient":"top","values":[-200,-150,-100,-50,0,50,100,150,200],"labelExpr":"''","labelFontSize":0,"labelPadding":0,"ticks":true,"tickSize":4,"offset":-4,"title":null}},"y":{"field":"f","type":"quantitative","axis":null}}},
{"data":{"name":"cont"},"mark":{"type":"text","font":"DejaVu Serif","fontSize":10,"align":"left","baseline":"alphabetic","color":"#333"},"encoding":{"x":{"datum":-245,"type":"quantitative","axis":null},"y":{"datum":1.06,"type":"quantitative","axis":null},"text":{"value":"H I Ly7"}}}
]},
{"width":200,"height":61,"resolve":{"axis":{"x":"independent","y":"independent"}},"layer":[
{"data":{"name":"ticks"},"mark":{"type":"rule","strokeWidth":1.2},"encoding":{"x":{"field":"v","type":"quantitative","scale":{"domain":[-250,250],"nice":false,"zero":false},"axis":{"orient":"bottom","values":[-200,-150,-100,-50,0,50,100,150,200],"labelExpr":"''","labelFontSize":0,"labelPadding":0,"ticks":true,"tickSize":4,"offset":-4,"title":null}},"y":{"datum":1,"type":"quantitative","scale":{"domain":[-0.09,1.4],"nice":false,"zero":false},"axis":{"orient":"left","values":[0,0.5,1],"labelExpr":"''","labelFontSize":0,"labelPadding":0,"ticks":true,"tickSize":4,"offset":-4,"title":null}},"y2":{"datum":1.2},"color":{"field":"c","type":"nominal","scale":{"domain":["g","r"],"range":["#3fd23f","#ee3a3a"]},"legend":null}}},
{"data":{"name":"cont"},"mark":{"type":"rule","color":"#8a8af0","strokeWidth":1,"strokeDash":[13,6]},"encoding":{"y":{"field":"f","type":"quantitative","axis":{"orient":"right","values":[0,0.5,1],"labelExpr":"''","labelFontSize":0,"labelPadding":0,"ticks":true,"tickSize":4,"offset":-4,"title":null}}}},
{"data":{"name":"zero"},"mark":{"type":"rule","color":"#5fd35f","strokeWidth":1,"strokeDash":[2,4]},"encoding":{"y":{"field":"f","type":"quantitative","axis":null}}},
{"data":{"name":"spec"},"transform":[{"filter":"datum.p==='8'"}],"mark":{"type":"line","color":"#262626","strokeWidth":1,"interpolate":"step","clip":true},"encoding":{"x":{"field":"v","type":"quantitative","axis":{"orient":"top","values":[-200,-150,-100,-50,0,50,100,150,200],"labelExpr":"''","labelFontSize":0,"labelPadding":0,"ticks":true,"tickSize":4,"offset":-4,"title":null}},"y":{"field":"f","type":"quantitative","axis":null}}},
{"data":{"name":"model"},"transform":[{"filter":"datum.p==='8'"}],"mark":{"type":"line","color":"#e3261e","strokeWidth":1.4,"clip":true},"encoding":{"x":{"field":"v","type":"quantitative","axis":null},"y":{"field":"f","type":"quantitative","axis":null}}},
{"data":{"name":"cont"},"mark":{"type":"text","font":"DejaVu Serif","fontSize":10,"align":"right","baseline":"alphabetic","color":"#333"},"encoding":{"x":{"datum":229,"type":"quantitative","axis":null},"y":{"datum":1.06,"type":"quantitative","axis":null},"text":{"value":"H I Ly8"}}}
]},
{"width":200,"height":61,"resolve":{"axis":{"x":"independent","y":"independent"}},"layer":[
{"data":{"name":"ticks"},"mark":{"type":"rule","strokeWidth":1.2},"encoding":{"x":{"field":"v","type":"quantitative","scale":{"domain":[-250,250],"nice":false,"zero":false},"axis":{"orient":"bottom","values":[-200,-150,-100,-50,0,50,100,150,200],"labelExpr":"''","labelFontSize":0,"labelPadding":0,"ticks":true,"tickSize":4,"offset":-4,"title":null}},"y":{"datum":1,"type":"quantitative","scale":{"domain":[-0.09,1.4],"nice":false,"zero":false},"axis":{"orient":"left","values":[0,0.5,1],"labelExpr":"''","labelFontSize":0,"labelPadding":0,"ticks":true,"tickSize":4,"offset":-4,"title":null}},"y2":{"datum":1.2},"color":{"field":"c","type":"nominal","scale":{"domain":["g","r"],"range":["#3fd23f","#ee3a3a"]},"legend":null}}},
{"data":{"name":"cont"},"mark":{"type":"rule","color":"#8a8af0","strokeWidth":1,"strokeDash":[13,6]},"encoding":{"y":{"field":"f","type":"quantitative","axis":{"orient":"right","values":[0,0.5,1],"labelExpr":"''","labelFontSize":0,"labelPadding":0,"ticks":true,"tickSize":4,"offset":-4,"title":null}}}},
{"data":{"name":"zero"},"mark":{"type":"rule","color":"#5fd35f","strokeWidth":1,"strokeDash":[2,4]},"encoding":{"y":{"field":"f","type":"quantitative","axis":null}}},
{"data":{"name":"spec"},"transform":[{"filter":"datum.p==='9'"}],"mark":{"type":"line","color":"#262626","strokeWidth":1,"interpolate":"step","clip":true},"encoding":{"x":{"field":"v","type":"quantitative","axis":{"orient":"top","values":[-200,-150,-100,-50,0,50,100,150,200],"labelExpr":"''","labelFontSize":0,"labelPadding":0,"ticks":true,"tickSize":4,"offset":-4,"title":null}},"y":{"field":"f","type":"quantitative","axis":null}}},
{"data":{"name":"cont"},"mark":{"type":"text","font":"DejaVu Serif","fontSize":10,"align":"right","baseline":"alphabetic","color":"#333"},"encoding":{"x":{"datum":227,"type":"quantitative","axis":null},"y":{"datum":1.06,"type":"quantitative","axis":null},"text":{"value":"H I Ly9"}}}
]},
{"width":200,"height":61,"resolve":{"axis":{"x":"independent","y":"independent"}},"layer":[
{"data":{"name":"ticks"},"mark":{"type":"rule","strokeWidth":1.2},"encoding":{"x":{"field":"v","type":"quantitative","scale":{"domain":[-250,250],"nice":false,"zero":false},"axis":{"orient":"bottom","values":[-200,-150,-100,-50,0,50,100,150,200],"labelExpr":"''","labelFontSize":0,"labelPadding":0,"ticks":true,"tickSize":4,"offset":-4,"title":null}},"y":{"datum":1,"type":"quantitative","scale":{"domain":[-0.09,1.4],"nice":false,"zero":false},"axis":{"orient":"left","values":[0,0.5,1],"labelExpr":"''","labelFontSize":0,"labelPadding":0,"ticks":true,"tickSize":4,"offset":-4,"title":null}},"y2":{"datum":1.2},"color":{"field":"c","type":"nominal","scale":{"domain":["g","r"],"range":["#3fd23f","#ee3a3a"]},"legend":null}}},
{"data":{"name":"cont"},"mark":{"type":"rule","color":"#8a8af0","strokeWidth":1,"strokeDash":[13,6]},"encoding":{"y":{"field":"f","type":"quantitative","axis":{"orient":"right","values":[0,0.5,1],"labelExpr":"''","labelFontSize":0,"labelPadding":0,"ticks":true,"tickSize":4,"offset":-4,"title":null}}}},
{"data":{"name":"zero"},"mark":{"type":"rule","color":"#5fd35f","strokeWidth":1,"strokeDash":[2,4]},"encoding":{"y":{"field":"f","type":"quantitative","axis":null}}},
{"data":{"name":"spec"},"transform":[{"filter":"datum.p==='10'"}],"mark":{"type":"line","color":"#262626","strokeWidth":1,"interpolate":"step","clip":true},"encoding":{"x":{"field":"v","type":"quantitative","axis":{"orient":"top","values":[-200,-150,-100,-50,0,50,100,150,200],"labelExpr":"''","labelFontSize":0,"labelPadding":0,"ticks":true,"tickSize":4,"offset":-4,"title":null}},"y":{"field":"f","type":"quantitative","axis":null}}},
{"data":{"name":"model"},"transform":[{"filter":"datum.p==='10'"}],"mark":{"type":"line","color":"#e3261e","strokeWidth":1.4,"clip":true},"encoding":{"x":{"field":"v","type":"quantitative","axis":{"orient":"bottom","values":[-200,-100,0,100,200],"ticks":false,"labelPadding":5,"labelFont":"DejaVu Sans","labelFontSize":10,"labelColor":"#222","title":null}},"y":{"field":"f","type":"quantitative","axis":null}}},
{"data":{"name":"cont"},"mark":{"type":"text","font":"DejaVu Serif","fontSize":10,"align":"right","baseline":"alphabetic","color":"#333"},"encoding":{"x":{"datum":249,"type":"quantitative","axis":null},"y":{"datum":1.13,"type":"quantitative","axis":null},"text":{"value":"H I Ly10"}}}
]}
],"spacing":11,"bounds":"flush"},
{"vconcat":[
{"width":200,"height":61,"resolve":{"axis":{"x":"independent","y":"independent"}},"layer":[
{"data":{"name":"ticks"},"mark":{"type":"rule","strokeWidth":1.2},"encoding":{"x":{"field":"v","type":"quantitative","scale":{"domain":[-250,250],"nice":false,"zero":false},"axis":{"orient":"bottom","values":[-200,-150,-100,-50,0,50,100,150,200],"labelExpr":"''","labelFontSize":0,"labelPadding":0,"ticks":true,"tickSize":4,"offset":-4,"title":null}},"y":{"datum":1,"type":"quantitative","scale":{"domain":[-0.09,1.4],"nice":false,"zero":false},"axis":{"orient":"left","values":[0,0.5,1],"labelExpr":"''","labelFontSize":0,"labelPadding":0,"ticks":true,"tickSize":4,"offset":-4,"title":null}},"y2":{"datum":1.2},"color":{"field":"c","type":"nominal","scale":{"domain":["g","r"],"range":["#3fd23f","#ee3a3a"]},"legend":null}}},
{"data":{"name":"cont"},"mark":{"type":"rule","color":"#2a2ae0","strokeWidth":1,"strokeDash":[13,6]},"encoding":{"y":{"field":"f","type":"quantitative","axis":{"orient":"right","values":[0,0.5,1],"labelExpr":"''","labelFontSize":0,"labelPadding":0,"ticks":true,"tickSize":4,"offset":-4,"title":null}}}},
{"data":{"name":"zero"},"mark":{"type":"rule","color":"#5fd35f","strokeWidth":1,"strokeDash":[2,4]},"encoding":{"y":{"field":"f","type":"quantitative","axis":null}}},
{"data":{"name":"spec"},"transform":[{"filter":"datum.p==='11'"}],"mark":{"type":"line","color":"#262626","strokeWidth":1,"interpolate":"step","clip":true},"encoding":{"x":{"field":"v","type":"quantitative","axis":{"orient":"top","values":[-200,-150,-100,-50,0,50,100,150,200],"labelExpr":"''","labelFontSize":0,"labelPadding":0,"ticks":true,"tickSize":4,"offset":-4,"title":null}},"y":{"field":"f","type":"quantitative","axis":{"orient":"right","values":[0,0.5,1],"format":".1f","ticks":false,"labelPadding":5,"labelFont":"Liberation Serif","labelFontSize":11,"labelColor":"#222","title":null}}}},
{"data":{"name":"model"},"transform":[{"filter":"datum.p==='11'"}],"mark":{"type":"line","color":"#e3261e","strokeWidth":1.4,"clip":true},"encoding":{"x":{"field":"v","type":"quantitative","axis":null},"y":{"field":"f","type":"quantitative","axis":null}}},
{"data":{"name":"cont"},"mark":{"type":"text","font":"DejaVu Serif","fontSize":10,"align":"right","baseline":"alphabetic","color":"#333"},"encoding":{"x":{"datum":221,"type":"quantitative","axis":null},"y":{"datum":1.06,"type":"quantitative","axis":null},"text":{"value":"H I Ly11"}}}
]},
{"width":200,"height":61,"resolve":{"axis":{"x":"independent","y":"independent"}},"layer":[
{"data":{"name":"ticks"},"mark":{"type":"rule","strokeWidth":1.2},"encoding":{"x":{"field":"v","type":"quantitative","scale":{"domain":[-250,250],"nice":false,"zero":false},"axis":{"orient":"bottom","values":[-200,-150,-100,-50,0,50,100,150,200],"labelExpr":"''","labelFontSize":0,"labelPadding":0,"ticks":true,"tickSize":4,"offset":-4,"title":null}},"y":{"datum":1,"type":"quantitative","scale":{"domain":[-0.09,1.4],"nice":false,"zero":false},"axis":{"orient":"left","values":[0,0.5,1],"labelExpr":"''","labelFontSize":0,"labelPadding":0,"ticks":true,"tickSize":4,"offset":-4,"title":null}},"y2":{"datum":1.2},"color":{"field":"c","type":"nominal","scale":{"domain":["g","r"],"range":["#3fd23f","#ee3a3a"]},"legend":null}}},
{"data":{"name":"cont"},"mark":{"type":"rule","color":"#2a2ae0","strokeWidth":1,"strokeDash":[13,6]},"encoding":{"y":{"field":"f","type":"quantitative","axis":{"orient":"right","values":[0,0.5,1],"labelExpr":"''","labelFontSize":0,"labelPadding":0,"ticks":true,"tickSize":4,"offset":-4,"title":null}}}},
{"data":{"name":"zero"},"mark":{"type":"rule","color":"#5fd35f","strokeWidth":1,"strokeDash":[2,4]},"encoding":{"y":{"field":"f","type":"quantitative","axis":null}}},
{"data":{"name":"spec"},"transform":[{"filter":"datum.p==='12'"}],"mark":{"type":"line","color":"#262626","strokeWidth":1,"interpolate":"step","clip":true},"encoding":{"x":{"field":"v","type":"quantitative","axis":{"orient":"top","values":[-200,-150,-100,-50,0,50,100,150,200],"labelExpr":"''","labelFontSize":0,"labelPadding":0,"ticks":true,"tickSize":4,"offset":-4,"title":null}},"y":{"field":"f","type":"quantitative","axis":{"orient":"right","values":[0,0.5,1],"format":".1f","ticks":false,"labelPadding":5,"labelFont":"Liberation Serif","labelFontSize":11,"labelColor":"#222","title":null}}}},
{"data":{"name":"model"},"transform":[{"filter":"datum.p==='12'"}],"mark":{"type":"line","color":"#e3261e","strokeWidth":1.4,"clip":true},"encoding":{"x":{"field":"v","type":"quantitative","axis":null},"y":{"field":"f","type":"quantitative","axis":null}}},
{"data":{"name":"cont"},"mark":{"type":"text","font":"DejaVu Serif","fontSize":10,"align":"right","baseline":"alphabetic","color":"#333"},"encoding":{"x":{"datum":223,"type":"quantitative","axis":null},"y":{"datum":1.1,"type":"quantitative","axis":null},"text":{"value":"H I Ly12"}}}
]},
{"width":200,"height":61,"resolve":{"axis":{"x":"independent","y":"independent"}},"layer":[
{"data":{"name":"ticks"},"mark":{"type":"rule","strokeWidth":1.2},"encoding":{"x":{"field":"v","type":"quantitative","scale":{"domain":[-250,250],"nice":false,"zero":false},"axis":{"orient":"bottom","values":[-200,-150,-100,-50,0,50,100,150,200],"labelExpr":"''","labelFontSize":0,"labelPadding":0,"ticks":true,"tickSize":4,"offset":-4,"title":null}},"y":{"datum":1,"type":"quantitative","scale":{"domain":[-0.09,1.4],"nice":false,"zero":false},"axis":{"orient":"left","values":[0,0.5,1],"labelExpr":"''","labelFontSize":0,"labelPadding":0,"ticks":true,"tickSize":4,"offset":-4,"title":null}},"y2":{"datum":1.2},"color":{"field":"c","type":"nominal","scale":{"domain":["g","r"],"range":["#3fd23f","#ee3a3a"]},"legend":null}}},
{"data":{"name":"cont"},"mark":{"type":"rule","color":"#8a8af0","strokeWidth":1,"strokeDash":[13,6]},"encoding":{"y":{"field":"f","type":"quantitative","axis":{"orient":"right","values":[0,0.5,1],"labelExpr":"''","labelFontSize":0,"labelPadding":0,"ticks":true,"tickSize":4,"offset":-4,"title":null}}}},
{"data":{"name":"zero"},"mark":{"type":"rule","color":"#5fd35f","strokeWidth":1,"strokeDash":[2,4]},"encoding":{"y":{"field":"f","type":"quantitative","axis":null}}},
{"data":{"name":"spec"},"transform":[{"filter":"datum.p==='13'"}],"mark":{"type":"line","color":"#262626","strokeWidth":1,"interpolate":"step","clip":true},"encoding":{"x":{"field":"v","type":"quantitative","axis":{"orient":"top","values":[-200,-150,-100,-50,0,50,100,150,200],"labelExpr":"''","labelFontSize":0,"labelPadding":0,"ticks":true,"tickSize":4,"offset":-4,"title":null}},"y":{"field":"f","type":"quantitative","axis":{"orient":"right","values":[0,0.5,1],"format":".1f","ticks":false,"labelPadding":5,"labelFont":"Liberation Serif","labelFontSize":11,"labelColor":"#222","title":null}}}},
{"data":{"name":"cont"},"mark":{"type":"text","font":"DejaVu Serif","fontSize":10,"align":"right","baseline":"alphabetic","color":"#333"},"encoding":{"x":{"datum":223,"type":"quantitative","axis":null},"y":{"datum":1.06,"type":"quantitative","axis":null},"text":{"value":"H I Ly13"}}}
]},
{"width":200,"height":61,"resolve":{"axis":{"x":"independent","y":"independent"}},"layer":[
{"data":{"name":"ticks"},"mark":{"type":"rule","strokeWidth":1.2},"encoding":{"x":{"field":"v","type":"quantitative","scale":{"domain":[-250,250],"nice":false,"zero":false},"axis":{"orient":"bottom","values":[-200,-150,-100,-50,0,50,100,150,200],"labelExpr":"''","labelFontSize":0,"labelPadding":0,"ticks":true,"tickSize":4,"offset":-4,"title":null}},"y":{"datum":1,"type":"quantitative","scale":{"domain":[-0.09,1.4],"nice":false,"zero":false},"axis":{"orient":"left","values":[0,0.5,1],"labelExpr":"''","labelFontSize":0,"labelPadding":0,"ticks":true,"tickSize":4,"offset":-4,"title":null}},"y2":{"datum":1.2},"color":{"field":"c","type":"nominal","scale":{"domain":["g","r"],"range":["#3fd23f","#ee3a3a"]},"legend":null}}},
{"data":{"name":"cont"},"mark":{"type":"rule","color":"#8a8af0","strokeWidth":1,"strokeDash":[13,6]},"encoding":{"y":{"field":"f","type":"quantitative","axis":{"orient":"right","values":[0,0.5,1],"labelExpr":"''","labelFontSize":0,"labelPadding":0,"ticks":true,"tickSize":4,"offset":-4,"title":null}}}},
{"data":{"name":"zero"},"mark":{"type":"rule","color":"#5fd35f","strokeWidth":1,"strokeDash":[2,4]},"encoding":{"y":{"field":"f","type":"quantitative","axis":null}}},
{"data":{"name":"spec"},"transform":[{"filter":"datum.p==='14'"}],"mark":{"type":"line","color":"#262626","strokeWidth":1,"interpolate":"step","clip":true},"encoding":{"x":{"field":"v","type":"quantitative","axis":{"orient":"top","values":[-200,-150,-100,-50,0,50,100,150,200],"labelExpr":"''","labelFontSize":0,"labelPadding":0,"ticks":true,"tickSize":4,"offset":-4,"title":null}},"y":{"field":"f","type":"quantitative","axis":{"orient":"right","values":[0,0.5,1],"format":".1f","ticks":false,"labelPadding":5,"labelFont":"Liberation Serif","labelFontSize":11,"labelColor":"#222","title":null}}}},
{"data":{"name":"model"},"transform":[{"filter":"datum.p==='14'"}],"mark":{"type":"line","color":"#e3261e","strokeWidth":1.4,"clip":true},"encoding":{"x":{"field":"v","type":"quantitative","axis":{"orient":"bottom","values":[-200,-100,0,100,200],"ticks":false,"labelPadding":5,"labelFont":"DejaVu Sans","labelFontSize":10,"labelColor":"#222","title":null}},"y":{"field":"f","type":"quantitative","axis":null}}},
{"data":{"name":"cont"},"mark":{"type":"text","font":"DejaVu Serif","fontSize":10,"align":"right","baseline":"alphabetic","color":"#333"},"encoding":{"x":{"datum":223,"type":"quantitative","axis":null},"y":{"datum":1.06,"type":"quantitative","axis":null},"text":{"value":"H I Ly14"}}}
]}
],"spacing":11,"bounds":"flush"}
],
"spacing":15
}
